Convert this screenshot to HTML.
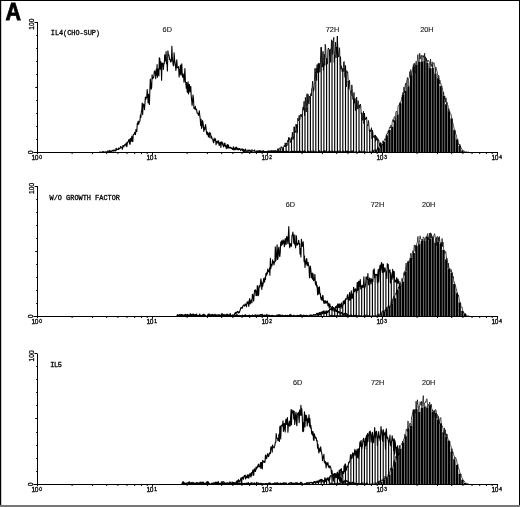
<!DOCTYPE html>
<html lang="en"><head><meta charset="utf-8"><title>Figure A</title>
<style>
html,body{margin:0;padding:0;background:#fff}
body{width:520px;height:507px;overflow:hidden;position:relative;font-family:"Liberation Sans",sans-serif}
svg{position:absolute;left:0;top:0;display:block}
.ax{stroke:#000;stroke-width:1;fill:none;shape-rendering:crispEdges}
.tk{stroke:#000;stroke-width:1;fill:none}
.ol{stroke:#000;stroke-width:1.1;fill:none;stroke-linejoin:round}
.ol3{stroke:#000;stroke-width:.85;fill:none;stroke-linejoin:round}
.ol2{stroke:#000;stroke-width:.7;fill:none;stroke-linejoin:round}
.h72{stroke:#000;stroke-width:1.15;fill:none}
.h20{stroke:#000;stroke-width:2.15;fill:none}
.t{font-family:"Liberation Mono",monospace;font-size:6.9px;fill:#000;stroke:#000;stroke-width:.3}
.n{font-family:"Liberation Sans",sans-serif;font-size:7px;fill:#000;stroke:#000;stroke-width:.3}
.s{font-family:"Liberation Sans",sans-serif;font-size:4.8px;fill:#000;stroke:#000;stroke-width:.3}
.l{font-family:"Liberation Sans",sans-serif;font-size:7.3px;fill:#111;stroke:#111;stroke-width:.1}
.A{font-family:"Liberation Sans",sans-serif;font-weight:bold;font-size:24.4px;fill:#000;stroke:#000;stroke-width:.8;stroke-linejoin:miter}
</style></head><body>
<svg width="520" height="507" viewBox="0 0 520 507">
<defs><filter id="soft" x="0" y="0" width="520" height="507" filterUnits="userSpaceOnUse"><feGaussianBlur stdDeviation="0.33"/></filter></defs>
<rect x="0" y="0" width="520" height="507" fill="#fff"/>
<g filter="url(#soft)">
<g>
<path class="ol" d="M99.5 152.3L100 151.9L100.4 152.3L100.9 152.2L101.3 152.3L101.8 152.3L102.2 152.3L102.7 151.6L103.1 152.1L103.5 151.6L104 152L104.4 152.3L104.9 152.1L105.3 152.2L105.8 151.8L106.2 152L106.7 151.9L107.1 152.3L107.6 152.1L108 150.6L108.5 152L108.9 152.2L109.4 151.2L109.8 150.3L110.3 152.2L110.7 151.3L111.2 151.5L111.6 152.3L112.1 150.2L112.5 150.7L113 150.5L113.4 151.1L113.9 149.9L114.3 150.7L114.8 150.2L115.2 151L115.7 151L116.1 148.2L116.6 150L117 149L117.5 149.2L117.9 149.5L118.4 149.5L118.8 147.9L119.3 148.9L119.7 148.6L120.2 148.2L120.6 146.5L121.1 147L121.5 147.2L122 148.3L122.4 149.3L122.9 145.6L123.3 145.5L123.8 146.9L124.2 145.6L124.7 144.9L125.1 144.5L125.6 144L126 146L126.5 142.7L126.9 146.6L127.4 142.4L127.8 142.5L128.3 141.3L128.7 140L129.2 139.3L129.6 143.7L130.1 144.3L130.5 138.2L131 141.7L131.4 138.7L131.9 136L132.3 141.2L132.8 141.7L133.2 134.9L133.7 134.5L134.1 134.3L134.6 132.4L135 133.8L135.5 134.6L135.9 129.5L136.4 130.4L136.8 131.6L137.3 123.4L137.7 124L138.2 121L138.6 124.5L139.1 122.1L139.5 122L140 120.4L140.4 115L140.9 117.4L141.3 111.7L141.8 110.3L142.2 103L142.7 114.6L143.1 103.8L143.6 106.4L144 104.7L144.5 109.6L144.9 103.9L145.4 97.1L145.8 99.4L146.3 97.3L146.7 97.7L147.2 89.6L147.6 93.8L148.1 102.9L148.5 94.4L149 99.4L149.4 104.5L149.9 89.7L150.3 79L150.8 84.2L151.2 89.2L151.7 86.8L152.1 74.7L152.6 78.7L153 78.1L153.5 77.6L153.9 76.1L154.4 71L154.8 71.4L155.3 72.4L155.7 78.6L156.2 69.2L156.6 75.2L157.1 64.5L157.5 77.2L158 70.2L158.4 68.8L158.9 75.7L159.3 57.7L159.8 58.7L160.2 69.2L160.7 61.5L161.1 63.3L161.6 80.2L162 63.1L162.5 64.4L162.9 63.1L163.4 69.4L163.8 64.2L164.3 63.2L164.7 54.7L165.2 59.3L165.6 61L166.1 51.6L166.5 63.7L167 62.6L167.4 71L167.9 50.7L168.3 54.4L168.7 54.7L169.2 56.2L169.6 59.7L170.1 59.1L170.5 62L171 61.9L171.4 60.5L171.9 46.3L172.3 57.9L172.8 61.8L173.2 65.1L173.7 65.8L174.1 52.9L174.6 59.7L175 62.7L175.5 65.5L175.9 70.4L176.4 64.8L176.8 59.9L177.3 67.7L177.7 67.3L178.2 67.9L178.6 66.6L179.1 77L179.5 69.9L180 74.1L180.4 65L180.9 75L181.3 68.3L181.8 63.8L182.2 74.8L182.7 77.3L183.1 73.9L183.6 75.9L184 82.3L184.5 75.6L184.9 68.5L185.4 81.7L185.8 82.7L186.3 88.3L186.7 82.6L187.2 91.8L187.6 92.4L188.1 81.7L188.5 93.9L189 85.4L189.4 84.6L189.9 91.9L190.3 91.8L190.8 86.4L191.2 96L191.7 100.7L192.1 105.4L192.6 100.3L193 95.1L193.5 98.7L193.9 108.1L194.4 108.9L194.8 108.5L195.3 106.4L195.7 109.6L196.2 109L196.6 109.7L197.1 113.2L197.5 113.2L198 113.2L198.4 115.4L198.9 114.2L199.3 110.7L199.8 115.8L200.2 118.7L200.7 125.8L201.1 119.4L201.6 128.4L202 127.4L202.5 120.6L202.9 122L203.4 125.6L203.8 131.4L204.3 127.9L204.7 129.6L205.2 126.3L205.6 124.5L206.1 129.1L206.5 132.7L207 134.6L207.4 132.1L207.9 133.1L208.3 136.4L208.8 133.6L209.2 137.6L209.7 132.3L210.1 133.1L210.6 133.6L211 138.1L211.5 136.2L211.9 138.2L212.4 139.2L212.8 139.5L213.3 142.1L213.7 142.8L214.2 138.1L214.6 140.6L215.1 140.1L215.5 138.8L216 144.8L216.4 143.1L216.9 141.4L217.3 141.3L217.8 143.1L218.2 140.6L218.7 142.4L219.1 145.4L219.6 145L220 142L220.5 142.8L220.9 147.4L221.4 141.9L221.8 143.2L222.3 142.3L222.7 145.3L223.2 145.3L223.6 146.9L224.1 143.1L224.5 145.6L225 143.4L225.4 146.7L225.9 145.5L226.3 148.6L226.8 146.7L227.2 144.6L227.7 148.3L228.1 144.8L228.6 145.7L229 148.3L229.5 147.6L229.9 147.6L230.4 147.2L230.8 148L231.3 148.5L231.7 147.9L232.2 149L232.6 149.5L233.1 147.9L233.5 146.7L234 150.1L234.4 148.1L234.8 149.1L235.3 149.6L235.7 147.4L236.2 149.2L236.6 147.1L237.1 149.7L237.5 148.4L238 149.2L238.4 149.9L238.9 148.4L239.3 149.4L239.8 148.6L240.2 149.4L240.7 150.6L241.1 149.6L241.6 149.5L242 148.6L242.5 150.6L242.9 149.8L243.4 151.6L243.8 149.2L244.3 151L244.7 151.8L245.2 150.1L245.6 149L246.1 151.6L246.5 151.3L247 151L247.4 151.4L247.9 150L248.3 151.2L248.8 151.1L249.2 150L249.7 151.2L250.1 150.2L250.6 151.5L251 151.7L251.5 152.3L251.9 149.6L252.4 151.1L252.8 150.7L253.3 150.9L253.7 150.8L254.2 151L254.6 149.9L255.1 151.9L255.5 152.3L256 151.9L256.4 152.2L256.9 150.7L257.3 150.7L257.8 152L258.2 152.3L258.7 151.6L259.1 150.5L259.6 152.3L260 151.1L260.5 152.2L260.9 150.9L261.4 152.2L261.8 151.8L262.3 152.3L262.7 152.2L263.2 150.8L263.6 151.2L264.1 152L264.5 152.2L265 152.3L265.4 152L265.9 151.8L266.3 151.9L266.8 151.9L267.2 152.3L267.7 151.9L268.1 152L268.6 151.3L269 151.1L269.5 152.1L269.9 152.3L270.4 152.1L270.8 152.3L271.3 152.3L271.7 152.1L272.2 152.3L272.6 151.9L273.1 152.2L273.5 152.1L274 152.3L274.4 152.3L274.9 152.3L275.3 152.1L275.8 152.2L276.2 151.5L276.7 151.5L277.1 152.2L277.6 151.8L278 152.1L278.5 151.6L278.9 151.6L279.4 152.2L279.8 151.4L280.3 151.5L280.7 151.9L281.2 152.1L281.6 151.8L282.1 151.8L282.5 151.6L283 152.1L283.4 152L283.9 152.2L284.3 151.6L284.8 151.9L285.2 152L285.7 152L286.1 151.4L286.6 152.3L287 151.8L287.5 151.7L287.9 151.8L288.4 151.9L288.8 152.3L289.3 152.2L289.7 152L290.2 151.9L290.6 151.9L291.1 152.3L291.5 151.5L292 151.1L292.4 151.4L292.9 151.8L293.3 152.2L293.8 151.6L294.2 152.1L294.7 152.3L295.1 151.7L295.6 152.3L296 152.3L296.5 152L296.9 151.5L297.4 152.2L297.8 151.9L298.3 151.4L298.7 151.5L299.2 151.9L299.6 151.9L300 152.3"/>
<path class="h72" d="M275.3 152.3V150.4M278 152.3V148.7M280.7 152.3V148.3M283.4 152.3V148M286.1 152.3V145M288.8 152.3V137.4M291.5 152.3V137.2M294.2 152.3V126.8M296.9 152.3V124.7M299.6 152.3V120.4M302.3 152.3V115.8M305 152.3V108M307.7 152.3V106.4M310.4 152.3V99M313.1 152.3V87.2M315.8 152.3V79.8M318.5 152.3V63.5M321.2 152.3V47.2M323.9 152.3V63.5M326.6 152.3V58.4M329.3 152.3V50M332 152.3V40.9M334.7 152.3V54.4M337.4 152.3V36.2M340.1 152.3V65.3M342.8 152.3V68.4M345.5 152.3V65.6M348.2 152.3V81.1M350.9 152.3V96M353.6 152.3V97.7M356.3 152.3V98.6M359 152.3V109.6M361.7 152.3V112.8M364.4 152.3V113M367 152.3V124.5M369.7 152.3V129.7M372.4 152.3V130.1M375.1 152.3V134.9M377.8 152.3V138.7M380.5 152.3V142.9M383.2 152.3V147.1M385.9 152.3V147.1M388.6 152.3V149.2M391.3 152.3V150.1M394 152.3V151.6"/>
<path class="ol3" d="M262.3 152.3L262.7 151.8L263.2 151.7L263.6 152.3L264.1 152.1L264.5 152L265 151.7L265.4 152.1L265.9 151.2L266.3 152.2L266.8 152.3L267.2 152.3L267.7 152.3L268.1 152.3L268.6 151.2L269 151.7L269.5 152.3L269.9 151.5L270.4 152.3L270.8 151.9L271.3 151.2L271.7 151L272.2 152.1L272.6 150.6L273.1 150.1L273.5 151.7L274 150.5L274.4 152.3L274.9 152.3L275.3 150.4L275.8 150.8L276.2 150.5L276.7 151.2L277.1 150.8L277.6 149.3L278 148.7L278.5 150.1L278.9 151.8L279.4 147.9L279.8 148.3L280.3 147.9L280.7 148.3L281.2 146.6L281.6 147.9L282.1 146.9L282.5 150.6L283 148.1L283.4 148L283.9 146.4L284.3 145.2L284.8 147L285.2 142.8L285.7 146.8L286.1 145L286.6 142.9L287 145.8L287.5 140.9L287.9 140.1L288.4 141.8L288.8 137.4L289.3 139.5L289.7 138.3L290.2 141.1L290.6 142.5L291.1 138.8L291.5 137.2L292 136.8L292.4 132.2L292.9 139.7L293.3 136.7L293.8 138.3L294.2 126.8L294.7 132.3L295.1 131.2L295.6 132.5L296 124.1L296.5 128.1L296.9 124.7L297.4 132.7L297.8 118.2L298.3 121L298.7 119.3L299.2 115.3L299.6 120.4L300 119.3L300.5 114.4L300.9 114.6L301.4 116.7L301.8 114.3L302.3 115.8L302.7 108.9L303.2 106.8L303.6 110.2L304.1 101.3L304.5 115.7L305 108L305.4 97.4L305.9 106.8L306.3 111.9L306.8 94.8L307.2 93.7L307.7 106.4L308.1 94.4L308.6 103.2L309 103.9L309.5 96L309.9 96.7L310.4 99L310.8 93.5L311.3 96L311.7 88.3L312.2 87.4L312.6 81.2L313.1 87.2L313.5 91.3L314 89.8L314.4 81.5L314.9 68.5L315.3 71.5L315.8 79.8L316.2 67.9L316.7 80.6L317.1 64.6L317.6 72.9L318 63.7L318.5 63.5L318.9 68.7L319.4 63.4L319.8 72.3L320.3 64.4L320.7 55.3L321.2 47.2L321.6 52.4L322.1 59.9L322.5 67.1L323 51.3L323.4 70.4L323.9 63.5L324.3 54.3L324.8 65.3L325.2 44.3L325.7 47.1L326.1 58.9L326.6 58.4L327 63.7L327.5 63.9L327.9 49.7L328.4 48L328.8 49.7L329.3 50L329.7 56L330.2 48.8L330.6 62.4L331.1 51.1L331.5 39.8L332 40.9L332.4 54.4L332.9 53.5L333.3 40.5L333.8 37.4L334.2 62.4L334.7 54.4L335.1 49.4L335.6 42.1L336 57.9L336.5 46.9L336.9 54.4L337.4 36.2L337.8 49.9L338.3 54.8L338.7 57.1L339.2 47.6L339.6 48.4L340.1 65.3L340.5 56.7L341 69.1L341.4 65.8L341.9 70.7L342.3 71.9L342.8 68.4L343.2 71.6L343.7 62.1L344.1 61.5L344.6 70L345 77.4L345.5 65.6L345.9 86.2L346.4 86.9L346.8 70.6L347.3 72.6L347.7 72L348.2 81.1L348.6 88.9L349.1 85.7L349.5 80.3L350 89.8L350.4 90.6L350.9 96L351.3 95.8L351.8 84.9L352.2 88.4L352.7 99L353.1 99.6L353.6 97.7L354 92.5L354.5 103.3L354.9 98.7L355.4 110.7L355.8 106.8L356.3 98.6L356.7 97.1L357.2 109.1L357.6 108L358.1 100.7L358.5 107.9L359 109.6L359.4 105.1L359.9 107.7L360.3 104L360.8 106.5L361.2 114.1L361.7 112.8L362.1 113.3L362.6 120.3L363 119.3L363.5 111.2L363.9 123.7L364.4 113L364.8 117.1L365.3 119.8L365.7 117.8L366.1 119L366.6 116.9L367 124.5L367.5 124.8L367.9 125.8L368.4 120.5L368.8 123L369.3 131L369.7 129.7L370.2 131.9L370.6 130.2L371.1 130.3L371.5 127.7L372 138.9L372.4 130.1L372.9 132.9L373.3 137.2L373.8 136.2L374.2 138L374.7 137L375.1 134.9L375.6 141.4L376 136.1L376.5 140.2L376.9 137.4L377.4 139.9L377.8 138.7L378.3 140.6L378.7 140L379.2 142.9L379.6 145.4L380.1 142.5L380.5 142.9L381 142.7L381.4 149.4L381.9 146.1L382.3 144L382.8 148.7L383.2 147.1L383.7 145.1L384.1 145.4L384.6 149L385 146.1L385.5 146.3L385.9 147.1L386.4 147.9L386.8 148.4L387.3 150.2L387.7 149.9L388.2 148.3L388.6 149.2L389.1 148.2L389.5 150.3L390 152.3L390.4 150.6L390.9 150L391.3 150.1L391.8 150.5L392.2 151.6L392.7 149.7L393.1 151.7L393.6 150.6L394 151.6L394.5 152.3L394.9 150.5L395.4 152.3L395.8 152.3L396.3 151.6L396.7 152.2L397.2 151.7L397.6 152.2L398.1 152.3L398.5 151.3L399 152.3"/>
<path d="M371.1 152.3L371.1 152.4L371.5 152.2L372 152.1L372.4 152L372.9 151.9L373.3 151.6L373.8 151.4L374.2 151.2L374.7 151.2L375.1 151.1L375.6 151.1L376 151L376.5 150.9L376.9 150.8L377.4 150.5L377.8 150.1L378.3 149.6L378.7 149L379.2 148.5L379.6 148L380.1 147.7L380.5 147.4L381 147.1L381.4 146.9L381.9 146.5L382.3 146L382.8 145.2L383.2 144.2L383.7 143.3L384.1 142.6L384.6 142L385 141.6L385.5 141.3L385.9 140.9L386.4 140.3L386.8 139.1L387.3 137.6L387.7 136.1L388.2 134.9L388.6 134L389.1 133.2L389.5 132.1L390 130.9L390.4 129.8L390.9 129L391.3 128.3L391.8 127.7L392.2 126.9L392.7 125.8L393.1 124.5L393.6 123.5L394 122.8L394.5 122.2L394.9 121.6L395.4 120.9L395.8 120.1L396.3 118.7L396.7 117.1L397.2 115.8L397.6 114.7L398.1 113.4L398.5 111.4L399 109.1L399.4 107.2L399.9 106L400.3 105.1L400.8 104.3L401.2 103.3L401.7 102.2L402.1 100.8L402.6 99.3L403 97.8L403.5 96.6L403.9 95.6L404.4 94.8L404.8 94L405.3 93.2L405.7 92.4L406.2 91.7L406.6 90.9L407.1 89.8L407.5 88.5L408 87.3L408.4 86L408.9 84.4L409.3 82.2L409.8 80.1L410.2 78.4L410.7 77.3L411.1 76.6L411.6 76.1L412 75.5L412.5 74.6L412.9 73.5L413.4 72.6L413.8 72.4L414.3 72.8L414.7 73.3L415.2 73.4L415.6 72.5L416.1 70.7L416.5 68.3L417 66.4L417.4 65.1L417.9 64.3L418.3 63.6L418.8 63.1L419.2 62.7L419.7 62.4L420.1 62L420.6 61.7L421 61.7L421.5 61.9L421.9 62L422.4 61.9L422.8 61.7L423.3 61.5L423.7 61.3L424.2 61.3L424.6 61.5L425.1 61.9L425.5 62.4L426 63L426.4 63.4L426.9 63.6L427.3 63.5L427.8 63.5L428.2 64L428.7 65.1L429.1 66.7L429.6 68L430 68.6L430.5 68.7L430.9 68.5L431.3 68.4L431.8 68.4L432.2 68.5L432.7 68.7L433.1 68.8L433.6 69.3L434 70.4L434.5 71.9L434.9 73.1L435.4 73.8L435.8 74.4L436.3 75.1L436.7 76.3L437.2 77.7L437.6 79.2L438.1 80.8L438.5 82.4L439 83.7L439.4 84.6L439.9 85.4L440.3 86.3L440.8 87.4L441.2 89.1L441.7 91.4L442.1 93.8L442.6 95.9L443 97.5L443.5 99L443.9 100.4L444.4 101.7L444.8 102.7L445.3 103.5L445.7 104.2L446.2 105.1L446.6 106.3L447.1 107.9L447.5 109.7L448 111.2L448.4 112.2L448.9 113L449.3 114L449.8 115.1L450.2 116.4L450.7 118.1L451.1 120L451.6 122L452 124L452.5 126L452.9 127.9L453.4 129.5L453.8 131L454.3 132.4L454.7 133.9L455.2 135.5L455.6 137.2L456.1 138.7L456.5 140.1L457 141.4L457.4 142.9L457.9 144.3L458.3 145.4L458.8 146.1L459.2 146.8L459.7 147.5L460.1 148.3L460.6 149.1L461 149.8L461.5 150.4L461.9 150.9L462.4 151.4L462.8 151.7L463.3 152L463.7 152.2L464.2 152.4L464.6 152.6L464.6 152.3Z" fill="#c0c0c0" stroke="none"/>
<path class="h20" d="M373.3 152.3V150.4M376 152.3V150.3M378.7 152.3V147.7M381.4 152.3V145.7M384.1 152.3V141.8M386.8 152.3V135.6M389.5 152.3V129.9M392.2 152.3V126.7M394.9 152.3V120.3M397.6 152.3V114.4M400.3 152.3V103.3M403 152.3V94.8M405.7 152.3V91M408.4 152.3V86.2M411.1 152.3V75.2M413.8 152.3V67.1M416.5 152.3V64.5M419.2 152.3V62.1M421.9 152.3V61.5M424.6 152.3V60.6M427.3 152.3V63.1M430 152.3V68.3M432.7 152.3V68.1M435.4 152.3V73.4M438.1 152.3V78.3M440.8 152.3V86.3M443.5 152.3V95.9M446.2 152.3V104.2M448.9 152.3V111.3M451.6 152.3V118.6M454.3 152.3V130.2M457 152.3V139.5M459.7 152.3V145.7M462.4 152.3V150.6"/>
<path class="ol2" d="M257.8 152.3L258.2 150.9L258.7 151.2L259.1 151.2L259.6 150.6L260 150.6L260.5 151.3L260.9 151.4L261.4 151.3L261.8 150.9L262.3 150.9L262.7 151L263.2 150.6L263.6 151L264.1 151.1L264.5 151.3L265 151.8L265.4 151.4L265.9 151.4L266.3 151.5L266.8 151.5L267.2 151.7L267.7 150.9L268.1 151.1L268.6 150.9L269 151.1L269.5 151L269.9 150.9L270.4 150.9L270.8 150.5L271.3 150.3L271.7 150.8L272.2 151.3L272.6 152L273.1 152.2L273.5 151.8L274 151.5L274.4 150.8L274.9 151.3L275.3 151.6L275.8 152L276.2 151.9L276.7 151.8L277.1 151.9L277.6 151.2L278 151L278.5 151.1L278.9 151.1L279.4 151.5L279.8 151.5L280.3 151L280.7 151.5L281.2 152L281.6 151.8L282.1 151.1L282.5 150.6L283 151.5L283.4 151.9L283.9 151.2L284.3 151.2L284.8 151.6L285.2 151.9L285.7 152L286.1 151.2L286.6 150.7L287 151.1L287.5 151.3L287.9 151.3L288.4 151.9L288.8 151.6L289.3 152.1L289.7 152.3L290.2 151.8L290.6 151.8L291.1 151.2L291.5 151L292 151.4L292.4 151.1L292.9 151.8L293.3 151.5L293.8 151.6L294.2 151.3L294.7 151.6L295.1 151L295.6 151.1L296 151.7L296.5 151.3L296.9 151.1L297.4 151.5L297.8 152L298.3 152L298.7 151.4L299.2 151.5L299.6 152.1L300 151.3L300.5 150.9L300.9 151.3L301.4 151.5L301.8 151.5L302.3 151.4L302.7 150.8L303.2 150.8L303.6 151.3L304.1 150.7L304.5 150.5L305 151.4L305.4 151L305.9 151.7L306.3 151.8L306.8 152.1L307.2 151.9L307.7 151.1L308.1 150.9L308.6 150.9L309 151.4L309.5 151.5L309.9 151.9L310.4 151.4L310.8 151.1L311.3 150.9L311.7 151L312.2 151.5L312.6 151.7L313.1 151.2L313.5 150.5L314 150.6L314.4 151.5L314.9 151.8L315.3 151.9L315.8 151.8L316.2 151.9L316.7 151.3L317.1 151.5L317.6 151.9L318 151.6L318.5 151.3L318.9 150.7L319.4 150.5L319.8 151.4L320.3 152L320.7 151.6L321.2 150.8L321.6 150.8L322.1 151.8L322.5 151.8L323 151.9L323.4 151L323.9 150.8L324.3 150.3L324.8 150.8L325.2 151.1L325.7 150.6L326.1 150.9L326.6 151.2L327 151.8L327.5 152L327.9 151.5L328.4 151.4L328.8 151.1L329.3 150.9L329.7 151L330.2 150.7L330.6 151.5L331.1 151.7L331.5 151.7L332 151.8L332.4 150.7L332.9 150.6L333.3 151L333.8 151.7L334.2 151.7L334.7 151.5L335.1 151L335.6 151.3L336 151.9L336.5 151.8L336.9 151L337.4 150.6L337.8 151.3L338.3 150.8L338.7 151.3L339.2 151.7L339.6 151.7L340.1 150.5L340.5 150.8L341 151.1L341.4 151.7L341.9 151.7L342.3 151.9L342.8 151.2L343.2 151.2L343.7 150.8L344.1 151.1L344.6 151.6L345 151.3L345.5 150.9L345.9 150.6L346.4 150.7L346.8 151.4L347.3 151L347.7 151.2L348.2 151.4L348.6 151.4L349.1 151.4L349.5 151.3L350 152L350.4 152L350.9 151.5L351.3 151L351.8 150.8L352.2 150.8L352.7 150.9L353.1 151.4L353.6 151.8L354 151.9L354.5 151.9L354.9 152L355.4 151.9L355.8 151.3L356.3 151.4L356.7 151.5L357.2 152.1L357.6 151.9L358.1 152.1L358.5 152.1L359 151L359.4 150.5L359.9 151.2L360.3 151.1L360.8 151.8L361.2 152.1L361.7 152.2L362.1 151.9L362.6 151.4L363 151.5L363.5 151.2L363.9 151L364.4 151.3L364.8 151L365.3 151.4L365.7 152.3L366.1 152.3L366.6 152.3L367 152.1L367.5 152.1L367.9 152.3L368.4 152.3L368.8 152L369.3 151.9L369.7 152.3L370.2 151.3L370.6 151.5L371.1 151.4L371.5 151.2L372 151.5L372.4 151L372.9 150.4L373.3 150.2L373.8 150.3L374.2 150.5L374.7 150.5L375.1 149.2L375.6 149.4L376 149.6L376.5 150.3L376.9 149.2L377.4 149.6L377.8 147.1L378.3 147.4L378.7 147.7L379.2 146.9L379.6 144.4L380.1 144.9L380.5 146.6L381 145.1L381.4 145.7L381.9 145.7L382.3 143.4L382.8 140.7L383.2 140.9L383.7 141.8L384.1 140.5L384.6 140.2L385 138.5L385.5 140.5L385.9 140.2L386.4 134.6L386.8 135.6L387.3 132.8L387.7 133.6L388.2 130.8L388.6 132.6L389.1 129.9L389.5 127.3L390 127L390.4 128.2L390.9 125L391.3 126.5L391.8 126.7L392.2 122.4L392.7 119.7L393.1 119.6L393.6 122.3L394 117.3L394.5 116.5L394.9 117.5L395.4 120.3L395.8 112.4L396.3 111.4L396.7 111L397.2 114.4L397.6 112.7L398.1 106.3L398.5 105.4L399 104.8L399.4 105.2L399.9 102.5L400.3 103.3L400.8 101.4L401.2 101.4L401.7 97.5L402.1 97.7L402.6 93.1L403 92.4L403.5 94.8L403.9 87L404.4 93.1L404.8 87.9L405.3 85L405.7 83.2L406.2 91L406.6 81.3L407.1 79.4L407.5 77.5L408 86.2L408.4 80.7L408.9 77.9L409.3 77.7L409.8 71.5L410.2 76.1L410.7 69.5L411.1 70.4L411.6 75.2L412 72.9L412.5 70.5L412.9 68L413.4 64.5L413.8 67.1L414.3 63L414.7 69.6L415.2 73.3L415.6 64.4L416.1 61.3L416.5 63.1L417 64.5L417.4 59.6L417.9 54.5L418.3 60.4L418.8 62L419.2 62.1L419.7 53.2L420.1 59.2L420.6 57.1L421 55.1L421.5 55.4L421.9 61.5L422.4 55.6L422.8 56L423.3 57.1L423.7 55.5L424.2 60.4L424.6 53.2L425.1 60.6L425.5 56.8L426 61.3L426.4 58.3L426.9 63.1L427.3 60.3L427.8 61.3L428.2 60.8L428.7 60.4L429.1 61.7L429.6 62.2L430 68.3L430.5 59.1L430.9 64.9L431.3 64.3L431.8 66.6L432.2 61.8L432.7 68.1L433.1 64.6L433.6 63.3L434 62.6L434.5 64.7L434.9 67.2L435.4 73.4L435.8 67.1L436.3 68.5L436.7 70.6L437.2 71.9L437.6 75.3L438.1 78.3L438.5 75.2L439 76.2L439.4 83.9L439.9 80.1L440.3 83.4L440.8 83.2L441.2 86.3L441.7 85.6L442.1 87.2L442.6 89L443 95.9L443.5 91.8L443.9 95.1L444.4 99.2L444.8 96.1L445.3 102.3L445.7 98.3L446.2 97.9L446.6 104.2L447.1 102.3L447.5 104.7L448 105.7L448.4 111.3L448.9 108.6L449.3 111.1L449.8 111.4L450.2 114.4L450.7 113.9L451.1 114.4L451.6 118L452 118.6L452.5 122.4L452.9 122.8L453.4 125.8L453.8 127L454.3 130.2L454.7 129.8L455.2 130.7L455.6 134.1L456.1 134.4L456.5 136.3L457 139.5L457.4 139.1L457.9 139.4L458.3 142.5L458.8 144.9L459.2 144L459.7 145.7L460.1 144.6L460.6 146.9L461 147.7L461.5 148.8L461.9 148.9L462.4 150L462.8 150.6L463.3 150.7L463.7 151.3L464.2 150.8L464.6 151.8L465.1 151.7L465.5 152L466 152.3L466.4 151.6L466.9 152.3L467.3 151.8L467.8 152.3L468.2 152.2L468.7 151.9L469.1 152.3"/>
<path d="M275 152.3L275.3 152L275.8 152L276.2 151.6L276.7 151.5L277.1 151.7L277.6 151.8L278 151.6L278.5 151.4L278.9 151.5L279.4 151.5L279.8 151.4L280.3 151.6L280.7 151.9L281.2 152L281.6 151.7L282.1 151.4L282.5 151.5L283 152L283.4 152.1L283.9 151.8L284.3 151.7L284.8 151.9L285.2 151.9L285.7 151.8L286.1 151.6L286.6 151.9L287 152L287.5 151.8L287.9 151.9L288.4 152.1L288.8 152.1L289.3 152.1L289.7 152.2L290.2 152.1L290.6 151.9L291.1 151.9L291.5 151.7L292 151.5L292.4 151.8L292.9 151.9L293.3 151.7L293.8 151.9L294.2 152L294.7 151.9L295.1 151.8L295.6 151.9L296 151.9L296.5 151.8L296.9 151.9L297.4 152L297.8 152L298.3 152L298.7 152L299.2 151.9L299.6 151.9L300 152.3Z" fill="#000" stroke="none"/>
<path d="M258 152.3L258.2 150.9L258.7 151.2L259.1 151.1L259.6 150.5L260 150.7L260.5 151.5L260.9 151.5L261.4 151.2L261.8 151.1L262.3 150.9L262.7 151.1L263.2 150.8L263.6 150.9L264.1 151.1L264.5 151.2L265 151.6L265.4 151.7L265.9 151.6L266.3 151.3L266.8 151.6L267.2 151.6L267.7 151.1L268.1 151.1L268.6 150.8L269 151.1L269.5 151.1L269.9 150.9L270.4 150.9L270.8 150.5L271.3 150.4L271.7 150.6L272.2 151.3L272.6 151.9L273.1 152.1L273.5 151.9L274 151.3L274.4 150.7L274.9 151.1L275.3 151.7L275.8 151.9L276.2 151.9L276.7 151.9L277.1 151.7L277.6 151.2L278 150.9L278.5 151L278.9 151.1L279.4 151.7L279.8 151.7L280.3 151.3L280.7 151.6L281.2 151.9L281.6 151.7L282.1 151.2L282.5 150.9L283 151.6L283.4 151.8L283.9 151.2L284.3 151.2L284.8 151.6L285.2 151.7L285.7 151.6L286.1 151.1L286.6 150.9L287 151.1L287.5 151L287.9 151.3L288.4 151.6L288.8 151.9L289.3 152.1L289.7 152.1L290.2 151.9L290.6 151.6L291.1 151.3L291.5 151L292 151.2L292.4 151.3L292.9 151.6L293.3 151.7L293.8 151.6L294.2 151.1L294.7 151.3L295.1 151.3L295.6 151.3L296 151.5L296.5 151.5L296.9 151.1L297.4 151.5L297.8 152L298.3 152L298.7 151.6L299.2 151.5L299.6 151.8L300 151.6L300.5 151L300.9 151.1L301.4 151.5L301.8 151.3L302.3 151.4L302.7 150.9L303.2 150.9L303.6 151.2L304.1 150.6L304.5 150.7L305 151.4L305.4 151.4L305.9 151.6L306.3 152L306.8 152.1L307.2 151.8L307.7 151.3L308.1 150.9L308.6 150.8L309 151.4L309.5 151.6L309.9 151.7L310.4 151.6L310.8 151.2L311.3 150.9L311.7 151.2L312.2 151.8L312.6 151.8L313.1 151.2L313.5 150.8L314 150.8L314.4 151.4L314.9 151.7L315.3 151.9L315.8 151.7L316.2 151.7L316.7 151.5L317.1 151.5L317.6 151.9L318 151.8L318.5 151.2L318.9 150.7L319.4 150.6L319.8 151.3L320.3 152L320.7 151.7L321.2 150.8L321.6 151L322.1 151.7L322.5 151.8L323 151.6L323.4 151L323.9 150.7L324.3 150.5L324.8 151L325.2 151.2L325.7 150.9L326.1 151.2L326.6 151.3L327 151.7L327.5 151.8L327.9 151.5L328.4 151.4L328.8 151L329.3 150.9L329.7 150.7L330.2 151L330.6 151.3L331.1 151.5L331.5 151.8L332 151.5L332.4 150.8L332.9 150.8L333.3 151L333.8 151.5L334.2 151.6L334.7 151.2L335.1 151.2L335.6 151.3L336 151.7L336.5 151.7L336.9 151.1L337.4 150.8L337.8 151.1L338.3 150.7L338.7 151L339.2 151.8L339.6 151.7L340.1 150.9L340.5 150.8L341 151.1L341.4 151.6L341.9 151.9L342.3 151.6L342.8 151.4L343.2 151.3L343.7 150.7L344.1 151L344.6 151.7L345 151.6L345.5 150.8L345.9 150.7L346.4 151L346.8 151.3L347.3 150.9L347.7 151L348.2 151.3L348.6 151.3L349.1 151.4L349.5 151.2L350 151.7L350.4 151.7L350.9 151.3L351.3 151.1L351.8 150.7L352.2 150.6L352.7 151L353.1 151.5L353.6 151.7L354 151.8L354.5 152L354.9 152.1L355.4 151.8L355.8 151.3L356.3 151.4L356.7 151.7L357.2 151.9L357.6 152.1L358.1 152.2L358.5 151.9L359 151.2L359.4 150.6L359.9 151L360.3 151.5L360.8 151.6L361.2 152L361.7 152.2L362.1 152L362.6 151.5L363 151.4L363.5 151.5L363.9 151.1L364.4 151.5L364.8 151.5L365.3 151.5L365.7 151.9L366 152.3Z" fill="#000" stroke="none"/>
<path class="ax" d="M37.5 22.2 V152.5 H497.5"/>
<path class="tk" d="M37.5 152.5h-4.2M37.5 139.5h-1.3M37.5 126.5h-1.3M37.5 113.5h-1.3M37.5 100.5h-1.3M37.5 87.5h-2.2M37.5 74.5h-1.3M37.5 61.5h-1.3M37.5 48.5h-1.3M37.5 35.5h-1.3M37.5 22.5h-3M37.5 152.3v2M72.1 152.3v1.8M92.4 152.3v1.8M106.7 152.3v1.8M117.9 152.3v1.8M127 152.3v1.8M134.7 152.3v1.8M141.4 152.3v1.8M147.2 152.3v1.8M152.5 152.3v2.6M187.1 152.3v1.8M207.4 152.3v1.8M221.7 152.3v1.8M232.9 152.3v1.8M242 152.3v1.8M249.7 152.3v1.8M256.4 152.3v1.8M262.2 152.3v1.8M267.5 152.3v2.6M302.1 152.3v1.8M322.4 152.3v1.8M336.7 152.3v1.8M347.9 152.3v1.8M357 152.3v1.8M364.7 152.3v1.8M371.4 152.3v1.8M377.2 152.3v1.8M382.5 152.3v2.6M417.1 152.3v1.8M437.4 152.3v1.8M451.7 152.3v1.8M462.9 152.3v1.8M472 152.3v1.8M479.7 152.3v1.8M486.4 152.3v1.8M492.2 152.3v1.8M497.5 152.3v2.6"/>
<text class="n" transform="translate(33.5 29.8) rotate(-90)" textLength="11.2" lengthAdjust="spacingAndGlyphs">100</text>
<text class="n" transform="translate(33.2 154.3) rotate(-90)">0</text>
<text class="n" x="31.5" y="160.3" textLength="6.8" lengthAdjust="spacing" style="font-size:6.6px">10</text><text class="s" x="39.2" y="158.6">0</text>
<text class="n" x="146.5" y="160.3" textLength="6.8" lengthAdjust="spacing" style="font-size:6.6px">10</text><text class="s" x="154.2" y="158.6">1</text>
<text class="n" x="261.5" y="160.3" textLength="6.8" lengthAdjust="spacing" style="font-size:6.6px">10</text><text class="s" x="269.2" y="158.6">2</text>
<text class="n" x="376.5" y="160.3" textLength="6.8" lengthAdjust="spacing" style="font-size:6.6px">10</text><text class="s" x="384.2" y="158.6">3</text>
<text class="n" x="491.5" y="160.3" textLength="6.8" lengthAdjust="spacing" style="font-size:6.6px">10</text><text class="s" x="499.2" y="158.6">4</text>
<text class="t" x="50.8" y="34.9" textLength="49.2" lengthAdjust="spacing">IL4(CHO-SUP)</text>
<text class="l" x="162.6" y="32.1">6D</text>
<text class="l" x="325.8" y="31.8">72H</text>
<text class="l" x="420.2" y="31.8">20H</text>
</g>
<g>
<path class="ol" d="M225.9 316.2L226.3 315.8L226.8 316.1L227.2 316.2L227.7 316.2L228.1 316.2L228.6 316.2L229 315.7L229.5 315.9L229.9 315.7L230.4 315.3L230.8 315.6L231.3 316.2L231.7 315.9L232.2 316L232.6 316.2L233.1 314.8L233.5 315.7L234 315.6L234.4 315.2L234.8 313L235.3 313.9L235.7 312.2L236.2 313.2L236.6 313.3L237.1 311.8L237.5 311.5L238 311.8L238.4 313L238.9 311.9L239.3 312.7L239.8 311L240.2 310.1L240.7 308L241.1 307.6L241.6 308.1L242 307.2L242.5 308.1L242.9 305.9L243.4 305.4L243.8 305L244.3 306.1L244.7 305.6L245.2 303.9L245.6 305.2L246.1 304.5L246.5 306.8L247 302.2L247.4 303.5L247.9 301.5L248.3 303.3L248.8 306.5L249.2 300.7L249.7 298.5L250.1 303.9L250.6 302.7L251 300.5L251.5 299.8L251.9 303L252.4 294.2L252.8 294.5L253.3 298.4L253.7 301.1L254.2 294.3L254.6 290.4L255.1 291.5L255.5 289.8L256 295.4L256.4 291.1L256.9 295.8L257.3 285.5L257.8 287.8L258.2 295.8L258.7 294.3L259.1 285.8L259.6 286.2L260 287L260.5 283.1L260.9 278.7L261.4 282.4L261.8 289.4L262.3 282.7L262.7 286.1L263.2 283.5L263.6 278.5L264.1 279.5L264.5 282.2L265 277.3L265.4 279.6L265.9 273.5L266.3 275.7L266.8 272.3L267.2 274.1L267.7 269L268.1 271.8L268.6 270.4L269 271.9L269.5 268L269.9 275.3L270.4 258.2L270.8 268.8L271.3 264.3L271.7 265.9L272.2 264.9L272.6 259.8L273.1 263L273.5 261.5L274 265L274.4 261.8L274.9 262L275.3 246.7L275.8 261L276.2 258.8L276.7 251.7L277.1 244.7L277.6 259.5L278 258.1L278.5 248.9L278.9 247L279.4 255.3L279.8 256.6L280.3 251.6L280.7 242.1L281.2 245.6L281.6 240.8L282.1 244.7L282.5 243.8L283 239.8L283.4 243.2L283.9 240.9L284.3 246.6L284.8 244.6L285.2 238.5L285.7 242L286.1 244.4L286.6 236.5L287 236.9L287.5 239.6L287.9 243.6L288.4 234.4L288.8 226.6L289.3 243.7L289.7 247.6L290.2 243.5L290.6 244.5L291.1 246.4L291.5 246L292 235.2L292.4 235.3L292.9 232.1L293.3 236.2L293.8 243.1L294.2 234.9L294.7 244.3L295.1 243.2L295.6 248L296 235.4L296.5 237L296.9 245.3L297.4 244.9L297.8 243.5L298.3 243.1L298.7 240.2L299.2 244.8L299.6 243.6L300 254.1L300.5 248.5L300.9 256.9L301.4 239.2L301.8 242.1L302.3 246.4L302.7 245.4L303.2 241.9L303.6 248.3L304.1 261.8L304.5 256L305 267.5L305.4 261.1L305.9 264.2L306.3 259.4L306.8 258.6L307.2 265.8L307.7 263.9L308.1 262.4L308.6 265.5L309 266.7L309.5 277.6L309.9 270.1L310.4 266L310.8 269.5L311.3 277.9L311.7 274L312.2 273L312.6 279.1L313.1 273.8L313.5 280.7L314 279.9L314.4 280.2L314.9 274.4L315.3 283.1L315.8 285L316.2 281.5L316.7 286.7L317.1 285.4L317.6 294.7L318 287.2L318.5 289.2L318.9 294.3L319.4 286.9L319.8 292.8L320.3 293.6L320.7 297.8L321.2 299.5L321.6 297.2L322.1 300.6L322.5 295.8L323 295.5L323.4 300.2L323.9 303.3L324.3 300.8L324.8 303.1L325.2 300.7L325.7 301.3L326.1 303.3L326.6 302.7L327 301.1L327.5 301L327.9 305.6L328.4 303.4L328.8 305.9L329.3 308L329.7 303.7L330.2 305.9L330.6 306.8L331.1 306.8L331.5 308.2L332 310.1L332.4 306.4L332.9 307.4L333.3 308.8L333.8 308L334.2 307.9L334.7 310.5L335.1 309.6L335.6 311.2L336 310.1L336.5 311.6L336.9 309.7L337.4 312.2L337.8 311.3L338.3 311.5L338.7 312.8L339.2 311.4L339.6 312.8L340.1 313.4L340.5 313.1L341 314.1L341.4 312.2L341.9 313L342.3 312.8L342.8 315.3L343.2 313.8L343.7 314.8L344.1 314.2L344.6 313.3L345 314.3L345.5 314.8L345.9 313.8L346.4 314L346.8 313.7L347.3 316.2L347.7 314.9L348.2 315.5L348.6 315.9L349.1 315.3L349.5 316.2L350 316.2L350.4 316.2L350.9 315.8L351.3 314.7L351.8 316.2L352.2 316.2L352.7 316.2L353.1 316.1L353.6 316.1L354 316L354.5 316.2L354.9 316.2L355.4 316.2L355.8 316.1L356.3 316.2"/>
<path class="h72" d="M315.8 316.2V314.4M318.5 316.2V313.1M321.2 316.2V314.8M323.9 316.2V310.8M326.6 316.2V315.1M329.3 316.2V311.4M332 316.2V307.8M334.7 316.2V311M337.4 316.2V305M340.1 316.2V304.6M342.8 316.2V305.1M345.5 316.2V298.7M348.2 316.2V299M350.9 316.2V294.1M353.6 316.2V287.2M356.3 316.2V293.4M359 316.2V281M361.7 316.2V287.9M364.4 316.2V290M367 316.2V278.5M369.7 316.2V277.9M372.4 316.2V279.3M375.1 316.2V274.8M377.8 316.2V274.4M380.5 316.2V271.5M383.2 316.2V264.1M385.9 316.2V271.4M388.6 316.2V271.3M391.3 316.2V279.8M394 316.2V271.4M396.7 316.2V277.8M399.4 316.2V285.5M402.1 316.2V292.8M404.8 316.2V299.9M407.5 316.2V298.7M410.2 316.2V301.9M412.9 316.2V306.3M415.6 316.2V310.3M418.3 316.2V311M421 316.2V313.9M423.7 316.2V315.7"/>
<path class="ol" d="M176.8 316.2L177.3 315L177.7 314.5L178.2 315L178.6 315.5L179.1 315.7L179.5 314.9L180 314.4L180.4 314.8L180.9 315.7L181.3 314.8L181.8 314.8L182.2 315.3L182.7 314.8L183.1 315L183.6 316L184 315.4L184.5 314.8L184.9 314.8L185.4 315.5L185.8 314.2L186.3 314.9L186.7 316.1L187.2 314.7L187.6 314.5L188.1 315L188.5 315L189 315.8L189.4 315.3L189.9 314.9L190.3 313.6L190.8 315L191.2 315.9L191.7 314.4L192.1 315.7L192.6 315L193 313.9L193.5 314.2L193.9 315.3L194.4 314.8L194.8 314.8L195.3 315.1L195.7 314.5L196.2 314.3L196.6 314.1L197.1 315.5L197.5 315.9L198 315.6L198.4 315.3L198.9 316.2L199.3 315.6L199.8 314L200.2 315.5L200.7 315.6L201.1 315.8L201.6 315.5L202 315.4L202.5 314.8L202.9 315.6L203.4 314.3L203.8 314.4L204.3 314.8L204.7 314.7L205.2 315.1L205.6 316.2L206.1 316.2L206.5 316.2L207 316.1L207.4 316.2L207.9 314.7L208.3 314.2L208.8 314.6L209.2 313.9L209.7 315.7L210.1 315L210.6 314.7L211 314.6L211.5 314.9L211.9 315.2L212.4 314.3L212.8 314.7L213.3 314.9L213.7 315.6L214.2 314.7L214.6 315.1L215.1 314.3L215.5 315L216 315.3L216.4 315.1L216.9 315.1L217.3 315L217.8 315.4L218.2 314.8L218.7 314.9L219.1 316.2L219.6 314.8L220 315.3L220.5 316.2L220.9 315L221.4 315.4L221.8 313.5L222.3 314.5L222.7 314.1L223.2 315L223.6 314.7L224.1 314.8L224.5 314.8L225 315.9L225.4 314.8L225.9 315.6L226.3 314.9L226.8 314.2L227.2 315.2L227.7 314.3L228.1 314.6L228.6 315.3L229 315.4L229.5 315.1L229.9 314.2L230.4 313.7L230.8 315.1L231.3 315.8L231.7 315.9L232.2 315.2L232.6 316L233.1 315L233.5 316.2L234 315.8L234.4 315.9L234.8 315.8L235.3 315.3L235.7 315.9L236.2 316.1L236.6 314.8L237.1 314.5L237.5 316.2L238 315.4L238.4 315.7L238.9 316.2L239.3 316.1L239.8 315.4L240.2 315.5L240.7 315.7L241.1 316.2L241.6 315.8L242 315.7L242.5 315.2L242.9 315.8L243.4 315.7L243.8 315.6L244.3 315.7L244.7 315.2L245.2 315.8L245.6 314.8L246.1 315.3L246.5 316.1L247 315.9L247.4 316.2L247.9 315.5L248.3 315.6L248.8 316.2L249.2 315L249.7 315.7L250.1 315.5L250.6 315.8L251 315.7L251.5 315.7L251.9 315.4L252.4 315.1L252.8 315L253.3 316.2L253.7 315.7L254.2 315.7L254.6 315.7L255.1 314.7L255.5 314.9L256 315.9L256.4 315.8L256.9 315.1L257.3 315.5L257.8 315.2L258.2 316.2L258.7 315.6L259.1 314.8L259.6 315.7L260 315.5L260.5 314.7L260.9 315.1L261.4 314.5L261.8 314.6L262.3 314.3L262.7 315.7L263.2 315.6L263.6 316.2L264.1 314.9L264.5 315.5L265 315.4L265.4 315.3L265.9 315.4L266.3 316.2L266.8 314.3L267.2 315.4L267.7 315.4L268.1 316.1L268.6 315.2L269 315.1L269.5 315.2L269.9 315.4L270.4 316.2L270.8 315.8L271.3 315.6L271.7 315.6L272.2 315.3L272.6 315.5L273.1 316.1L273.5 315.6L274 315.9L274.4 316.2L274.9 315.7L275.3 316.2L275.8 316.2L276.2 315.6L276.7 315.1L277.1 315.3L277.6 315.3L278 314.9L278.5 315L278.9 315.1L279.4 314.7L279.8 315L280.3 315.5L280.7 315L281.2 315.5L281.6 316.1L282.1 316L282.5 315.1L283 316L283.4 315.8L283.9 315.9L284.3 315.5L284.8 316L285.2 315.3L285.7 315.3L286.1 315.5L286.6 315.5L287 316L287.5 315.4L287.9 315.9L288.4 315.9L288.8 315.8L289.3 315.9L289.7 314.8L290.2 314.4L290.6 316L291.1 315.4L291.5 315.1L292 316L292.4 316.2L292.9 315.9L293.3 315.3L293.8 315.4L294.2 316L294.7 315.7L295.1 315.7L295.6 315.8L296 316.2L296.5 316.2L296.9 315.7L297.4 315.2L297.8 315.3L298.3 316.2L298.7 315.7L299.2 315.4L299.6 315.2L300 316L300.5 314.7L300.9 315L301.4 315.1L301.8 315.5L302.3 316.2L302.7 315.9L303.2 315.2L303.6 315.7L304.1 315.2L304.5 315.4L305 315.7L305.4 316L305.9 315.6L306.3 315.4L306.8 315.3L307.2 316.2L307.7 315.5L308.1 316.2L308.6 316L309 316L309.5 315.4L309.9 315.5L310.4 314.8L310.8 316.1L311.3 315L311.7 315.2L312.2 315.4L312.6 316.2L313.1 314.8L313.5 315L314 314.5L314.4 315.1L314.9 315.2L315.3 314.6L315.8 314.4L316.2 314.1L316.7 313.4L317.1 315.2L317.6 313.2L318 316.2L318.5 313.1L318.9 315L319.4 312.6L319.8 314.9L320.3 312.3L320.7 314.8L321.2 314.8L321.6 312.1L322.1 311.8L322.5 313.8L323 311.2L323.4 313L323.9 310.8L324.3 313.8L324.8 313.6L325.2 311.8L325.7 313.4L326.1 310.9L326.6 315.1L327 311L327.5 312.2L327.9 312.7L328.4 310.5L328.8 311.1L329.3 311.4L329.7 308.9L330.2 309.7L330.6 309.3L331.1 307.9L331.5 309.8L332 307.8L332.4 310.1L332.9 307.9L333.3 307.8L333.8 309.8L334.2 311.7L334.7 311L335.1 310L335.6 306.5L336 307.8L336.5 307.9L336.9 305.9L337.4 305L337.8 303.9L338.3 307.6L338.7 304.5L339.2 303.8L339.6 307.6L340.1 304.6L340.5 307L341 304.9L341.4 302.8L341.9 308.2L342.3 305.6L342.8 305.1L343.2 301.2L343.7 304.2L344.1 300.6L344.6 303.8L345 302.4L345.5 298.7L345.9 299.1L346.4 299.1L346.8 299.3L347.3 295.6L347.7 294.6L348.2 299L348.6 299.8L349.1 300.4L349.5 292.5L350 299L350.4 300.1L350.9 294.1L351.3 290.9L351.8 298.4L352.2 294L352.7 298.2L353.1 295L353.6 287.2L354 290.7L354.5 291.8L354.9 290L355.4 288.7L355.8 289.7L356.3 293.4L356.7 293L357.2 282.6L357.6 290.5L358.1 282.2L358.5 289.6L359 281L359.4 283.1L359.9 286.5L360.3 279.6L360.8 288.9L361.2 285.6L361.7 287.9L362.1 287.3L362.6 285.2L363 287.5L363.5 284.5L363.9 276.7L364.4 290L364.8 287.6L365.3 286L365.7 283.6L366.1 276.8L366.6 277.7L367 278.5L367.5 279.4L367.9 273.6L368.4 284.8L368.8 284.7L369.3 279.3L369.7 277.9L370.2 279.6L370.6 282.1L371.1 284L371.5 278.9L372 280.6L372.4 279.3L372.9 281.8L373.3 270.1L373.8 273.9L374.2 268.7L374.7 277.9L375.1 274.8L375.6 274.6L376 274.3L376.5 275.3L376.9 274.5L377.4 283L377.8 274.4L378.3 269.3L378.7 282L379.2 273.8L379.6 268.9L380.1 265.1L380.5 271.5L381 268.4L381.4 262.5L381.9 263.5L382.3 272.1L382.8 272.6L383.2 264.1L383.7 268.1L384.1 272L384.6 270.5L385 267.9L385.5 270.8L385.9 271.4L386.4 271.7L386.8 278.4L387.3 263.6L387.7 265.7L388.2 264.6L388.6 271.3L389.1 272.3L389.5 270.5L390 269.7L390.4 283L390.9 272.9L391.3 279.8L391.8 275.8L392.2 279.1L392.7 269.4L393.1 274.3L393.6 277.5L394 271.4L394.5 278.7L394.9 282.3L395.4 280.4L395.8 281.8L396.3 280.6L396.7 277.8L397.2 282.7L397.6 283.2L398.1 279.4L398.5 283.3L399 281.3L399.4 285.5L399.9 292.1L400.3 292.1L400.8 295L401.2 284.8L401.7 288.5L402.1 292.8L402.6 295.5L403 291.4L403.5 294.1L403.9 293.4L404.4 298.2L404.8 299.9L405.3 293.1L405.7 300.9L406.2 298.7L406.6 295.8L407.1 305.6L407.5 298.7L408 301.2L408.4 302.5L408.9 302L409.3 306.6L409.8 309.9L410.2 301.9L410.7 305.9L411.1 303.6L411.6 303.9L412 306.2L412.5 306.4L412.9 306.3L413.4 306.2L413.8 307.8L414.3 307.2L414.7 310.2L415.2 310.8L415.6 310.3L416.1 310.1L416.5 310.2L417 309.8L417.4 310.5L417.9 312.1L418.3 311L418.8 312.4L419.2 312.6L419.7 312.8L420.1 314.1L420.6 315.2L421 313.9L421.5 314.6L421.9 315.3L422.4 314.5L422.8 314.9L423.3 315.4L423.7 316.2L424.2 315.3L424.6 314.1L425.1 314.7L425.5 314.7L426 315.6L426.4 315L426.9 316.2L427.3 316.1L427.8 315.6L428.2 316.2L428.7 316L429.1 315.9L429.6 315.3L430 316.2L430.5 316L430.9 316.2"/>
<path d="M375.1 316.2L375.1 316.4L375.6 316.4L376 316.3L376.5 316.3L376.9 316.1L377.4 315.9L377.8 315.8L378.3 315.7L378.7 315.6L379.2 315.5L379.6 315.3L380.1 315L380.5 314.7L381 314.4L381.4 314.2L381.9 314L382.3 313.7L382.8 313.4L383.2 313.1L383.7 312.8L384.1 312.5L384.6 312.3L385 312L385.5 311.8L385.9 311.4L386.4 311L386.8 310.3L387.3 309.6L387.7 309L388.2 308.7L388.6 308.4L389.1 308.2L389.5 307.9L390 307.6L390.4 307.3L390.9 306.8L391.3 306L391.8 305.1L392.2 304.3L392.7 303.8L393.1 303.2L393.6 302.2L394 301L394.5 299.8L394.9 298.8L395.4 297.8L395.8 296.5L396.3 295.2L396.7 294L397.2 292.9L397.6 291.8L398.1 291L398.5 290.4L399 289.9L399.4 289.1L399.9 288.2L400.3 287.2L400.8 286.4L401.2 285.7L401.7 284.8L402.1 283.8L402.6 282.9L403 282L403.5 281L403.9 279.5L404.4 277.9L404.8 276.3L405.3 274.9L405.7 273.5L406.2 272.6L406.6 271.9L407.1 271.2L407.5 269.9L408 268L408.4 266.1L408.9 264.6L409.3 263.7L409.8 262.9L410.2 262L410.7 261L411.1 260.2L411.6 259.8L412 259.5L412.5 258.8L412.9 257.6L413.4 255.9L413.8 254.4L414.3 253.3L414.7 252.6L415.2 252L415.6 251.2L416.1 249.9L416.5 248.2L417 246.8L417.4 245.9L417.9 245.3L418.3 245L418.8 244.8L419.2 244.6L419.7 244L420.1 243.1L420.6 242.2L421 241.9L421.5 242L421.9 242.5L422.4 242.8L422.8 242.9L423.3 242.8L423.7 242.4L424.2 241.9L424.6 241.4L425.1 241.1L425.5 240.8L426 240.4L426.4 240L426.9 239.9L427.3 240.1L427.8 240.3L428.2 240.4L428.7 240.4L429.1 240.4L429.6 240.3L430 240.1L430.5 239.8L430.9 239.4L431.3 239.1L431.8 238.8L432.2 238.6L432.7 238.4L433.1 238.3L433.6 238.4L434 239.1L434.5 240.4L434.9 242.1L435.4 243.7L435.8 245L436.3 245.8L436.7 246.1L437.2 245.8L437.6 245.1L438.1 244.2L438.5 243.6L439 243.6L439.4 243.9L439.9 244.4L440.3 245.2L440.8 246L441.2 246.7L441.7 247.4L442.1 248.2L442.6 249.3L443 250.8L443.5 252.2L443.9 253.3L444.4 254.3L444.8 255.4L445.3 257L445.7 259L446.2 261.3L446.6 263.8L447.1 266.2L447.5 268L448 269.1L448.4 269.7L448.9 270.3L449.3 271.1L449.8 271.8L450.2 272.5L450.7 273.4L451.1 274.6L451.6 276.3L452 278.1L452.5 279.9L452.9 281.6L453.4 283.1L453.8 284.5L454.3 285.8L454.7 287.3L455.2 288.9L455.6 290.7L456.1 292.6L456.5 294.4L457 295.9L457.4 297.2L457.9 298.6L458.3 300.1L458.8 301.6L459.2 303.1L459.7 304.7L460.1 306.2L460.6 307.5L461 308.7L461.5 310L461.9 311.3L462.4 312.4L462.8 313.3L463.3 313.8L463.7 314.2L464.2 314.6L464.6 315L465.1 315.5L465.5 315.9L466 316.3L466.4 316.5L466.4 316.2Z" fill="#c0c0c0" stroke="none"/>
<path class="h20" d="M376 316.2V315.7M378.7 316.2V315M381.4 316.2V313.3M384.1 316.2V311.6M386.8 316.2V308.3M389.5 316.2V306.4M392.2 316.2V303.2M394.9 316.2V298.3M397.6 316.2V290.1M400.3 316.2V285.5M403 316.2V281.8M405.7 316.2V271.4M408.4 316.2V261.8M411.1 316.2V257.9M413.8 316.2V252.9M416.5 316.2V245.4M419.2 316.2V244.3M421.9 316.2V240.9M424.6 316.2V240.6M427.3 316.2V236.4M430 316.2V239M432.7 316.2V237.3M435.4 316.2V242.7M438.1 316.2V242.1M440.8 316.2V243.6M443.5 316.2V249.9M446.2 316.2V259.4M448.9 316.2V269M451.6 316.2V272.5M454.3 316.2V283.9M457 316.2V293.2M459.7 316.2V302.4M462.4 316.2V311M465.1 316.2V313.9"/>
<path class="ol2" d="M329.7 316.2L330.2 315.7L330.6 314.9L331.1 315.4L331.5 315.2L332 315.6L332.4 315.6L332.9 315.3L333.3 315.5L333.8 315.4L334.2 315.6L334.7 315.7L335.1 315.8L335.6 315.2L336 315.1L336.5 315.5L336.9 315.6L337.4 315.5L337.8 315.2L338.3 315.6L338.7 315.9L339.2 315.3L339.6 315L340.1 315.3L340.5 315.7L341 315.4L341.4 315.7L341.9 315.7L342.3 316.2L342.8 316.1L343.2 315.9L343.7 315.7L344.1 315.2L344.6 315L345 315.2L345.5 315.3L345.9 314.9L346.4 315.2L346.8 315.7L347.3 315.9L347.7 315.2L348.2 315.1L348.6 315.5L349.1 315.6L349.5 315.5L350 315.5L350.4 316.1L350.9 316L351.3 316L351.8 315.8L352.2 315.7L352.7 315.6L353.1 315.4L353.6 315.6L354 315.7L354.5 315.8L354.9 314.9L355.4 315L355.8 315.4L356.3 315.1L356.7 315.2L357.2 315.6L357.6 315.7L358.1 315.6L358.5 315.2L359 315.6L359.4 315.6L359.9 315.5L360.3 315.5L360.8 315.9L361.2 316L361.7 316.2L362.1 316.1L362.6 316.2L363 316.1L363.5 315.9L363.9 315.6L364.4 315.4L364.8 315.7L365.3 315.2L365.7 315.1L366.1 314.7L366.6 315.4L367 315.9L367.5 315.6L367.9 315.7L368.4 316L368.8 315.8L369.3 314.7L369.7 314.8L370.2 316.1L370.6 316.1L371.1 316.1L371.5 315.9L372 316.1L372.4 315.7L372.9 316.1L373.3 315.4L373.8 315.7L374.2 315.8L374.7 315.5L375.1 315.6L375.6 315.2L376 315.7L376.5 315.1L376.9 314.8L377.4 314.5L377.8 314.7L378.3 313.8L378.7 315L379.2 314.2L379.6 314.1L380.1 313.7L380.5 313.6L381 312.4L381.4 313L381.9 313.3L382.3 310.9L382.8 312.1L383.2 311.9L383.7 310.6L384.1 311.6L384.6 311L385 309.8L385.5 311L385.9 310L386.4 308.3L386.8 307L387.3 308.1L387.7 307.5L388.2 305.8L388.6 307.7L389.1 306.2L389.5 305.7L390 306.4L390.4 306.7L390.9 303.2L391.3 300.9L391.8 300.4L392.2 298.9L392.7 303.2L393.1 299.1L393.6 296.4L394 298.5L394.5 298.3L394.9 295.2L395.4 294.8L395.8 293L396.3 293L396.7 290.2L397.2 290.1L397.6 289.8L398.1 289.9L398.5 287.1L399 288.4L399.4 284.7L399.9 283.3L400.3 282.6L400.8 285.5L401.2 281.4L401.7 280.4L402.1 278.3L402.6 281.8L403 278.9L403.5 276.7L403.9 272.6L404.4 275.4L404.8 271.1L405.3 271.4L405.7 266.3L406.2 263L406.6 271.3L407.1 267L407.5 264.5L408 260.8L408.4 260.9L408.9 261.8L409.3 262.9L409.8 258.6L410.2 257.9L410.7 253.3L411.1 253.2L411.6 257.9L412 259.2L412.5 253.4L412.9 250.7L413.4 252.9L413.8 250.9L414.3 244.9L414.7 245.9L415.2 251.5L415.6 245.3L416.1 245.1L416.5 245.4L417 242.8L417.4 242.2L417.9 236.5L418.3 242.1L418.8 244.3L419.2 243.2L419.7 239.5L420.1 235.8L420.6 239L421 238.9L421.5 239.3L421.9 240.9L422.4 239.2L422.8 242.5L423.3 236.8L423.7 237.3L424.2 237.9L424.6 240.6L425.1 238.8L425.5 239.4L426 236.8L426.4 238.3L426.9 236.4L427.3 234.6L427.8 233.5L428.2 239.8L428.7 237.8L429.1 239.8L429.6 233.2L430 239L430.5 232.8L430.9 238L431.3 233.7L431.8 238.1L432.2 237.3L432.7 236.3L433.1 236.5L433.6 237.3L434 235.1L434.5 233.7L434.9 234.8L435.4 238.7L435.8 242.7L436.3 237.4L436.7 245.8L437.2 236.3L437.6 236.7L438.1 242.1L438.5 237.5L439 241.4L439.4 236.5L439.9 242.6L440.3 243.4L440.8 243.6L441.2 242L441.7 246.3L442.1 238.5L442.6 246.6L443 242.1L443.5 248.6L443.9 249.9L444.4 252.2L444.8 253.5L445.3 251.9L445.7 251.4L446.2 255.5L446.6 259.4L447.1 258.3L447.5 262.2L448 268.1L448.4 263.2L448.9 269L449.3 268.1L449.8 268.1L450.2 270.6L450.7 271.8L451.1 269.4L451.6 272.1L452 272.5L452.5 276.5L452.9 277.9L453.4 276.5L453.8 282.4L454.3 282.1L454.7 283.9L455.2 285.2L455.6 286.2L456.1 288.5L456.5 289L457 293.2L457.4 292.7L457.9 296.5L458.3 295L458.8 296.7L459.2 299.8L459.7 301.6L460.1 302.4L460.6 303.1L461 306.7L461.5 307.4L461.9 306.8L462.4 309.1L462.8 311L463.3 312.6L463.7 312.1L464.2 313.7L464.6 313.2L465.1 313.9L465.5 313.5L466 315.3L466.4 315L466.9 315.9L467.3 316.1L467.8 316L468.2 316.2L468.7 315.8L469.1 316.2L469.6 316.2"/>
<path d="M177 316.2L177.3 314.8L177.7 315.2L178.2 315.4L178.6 315.5L179.1 315.8L179.5 315.4L180 314.6L180.4 314.9L180.9 315L181.3 314.1L181.8 314L182.2 314.4L182.7 314.8L183.1 315.1L183.6 315.7L184 315.6L184.5 314.9L184.9 314.8L185.4 314.9L185.8 314.8L186.3 315.5L186.7 315.9L187.2 315.5L187.6 314.5L188.1 314.7L188.5 314.9L189 315L189.4 315.1L189.9 314.2L190.3 314.1L190.8 315.2L191.2 315.3L191.7 314.7L192.1 315L192.6 315.1L193 314.1L193.5 314.2L193.9 314.9L194.4 314.8L194.8 314.7L195.3 315.1L195.7 315.1L196.2 315L196.6 314.8L197.1 315.3L197.5 315.6L198 315.6L198.4 315.5L198.9 315.7L199.3 315.4L199.8 314.8L200.2 315L200.7 315.3L201.1 315.5L201.6 315.7L202 315.4L202.5 314.7L202.9 315L203.4 314.6L203.8 314.4L204.3 314.5L204.7 314.7L205.2 315.5L205.6 315.7L206.1 315.7L206.5 315.8L207 315.8L207.4 315.2L207.9 314.5L208.3 314.7L208.8 314.4L209.2 314.3L209.7 314.5L210.1 315L210.6 315.3L211 315.2L211.5 314.7L211.9 314.8L212.4 314.5L212.8 314.2L213.3 314.8L213.7 315L214.2 314.7L214.6 315.1L215.1 315L215.5 315.1L216 315L216.4 315L216.9 314.6L217.3 315.1L217.8 315.4L218.2 314.9L218.7 315.3L219.1 315.4L219.6 315L220 315.6L220.5 315.9L220.9 315.8L221.4 315.1L221.8 314.5L222.3 314.8L222.7 314.5L223.2 315.1L223.6 315.1L224.1 314.4L224.5 314.5L225 315.1L225.4 315L225.9 315.3L226.3 315.2L226.8 314.5L227.2 314.7L227.7 314.6L228.1 314.7L228.6 315.4L229 315.6L229.5 315.1L229.9 314.2L230.4 314.1L230.8 314.7L231.3 315.3L231.7 315.6L232 316.2Z" fill="#000" stroke="none"/>
<path d="M232 316.2L232.2 315.6L232.6 315.9L233.1 315.8L233.5 315.7L234 315.5L234.4 315.8L234.8 315.9L235.3 315.9L235.7 315.8L236.2 315.6L236.6 315.2L237.1 315.1L237.5 315.2L238 315.6L238.4 315.8L238.9 315.9L239.3 315.9L239.8 315.5L240.2 315.5L240.7 315.6L241.1 315.8L241.6 315.9L242 315.4L242.5 315.3L242.9 315.6L243.4 315.8L243.8 315.9L244.3 315.8L244.7 315.4L245.2 315.2L245.6 315L246.1 315.4L246.5 315.9L247 315.8L247.4 315.6L247.9 315.6L248.3 315.4L248.8 315.3L249.2 315.2L249.7 315.4L250.1 315.6L250.6 315.7L251 315.9L251.5 315.8L251.9 315.3L252.4 315.3L252.8 315.3L253.3 315.4L253.7 315.7L254.2 315.5L254.6 315.2L255.1 315.2L255.5 315.3L256 315.5L256.4 315.3L256.9 315.5L257.3 315.3L257.8 315L258.2 315.4L258.7 315.5L259.1 315.3L259.6 315.5L260 315.4L260.5 315.4L260.9 315.4L261.4 315.1L261.8 314.8L262.3 314.8L262.7 315L263.2 315.3L263.6 315.8L264.1 315.8L264.5 315.6L265 315.4L265.4 315L265.9 315L266.3 315.2L266.8 315.2L267.2 315.4L267.7 315.5L268.1 315.5L268.6 315.2L269 315.2L269.5 315.2L269.9 315.7L270.4 315.9L270.8 316L271.3 316L271.7 315.8L272.2 315.5L272.6 315.5L273.1 315.7L273.5 315.8L274 315.7L274.4 315.8L274.9 316L275.3 316L275.8 316L276.2 315.9L276.7 315.5L277.1 315.2L277.6 315.3L278 315.1L278.5 315L278.9 314.8L279.4 314.9L279.8 315.1L280.3 315.5L280.7 315.5L281.2 315.7L281.6 315.9L282.1 316L282.5 315.9L283 315.7L283.4 315.7L283.9 315.6L284.3 315.6L284.8 315.5L285.2 315.5L285.7 315.6L286.1 315.2L286.6 315.2L287 315.4L287.5 315.4L287.9 315.5L288.4 315.6L288.8 315.6L289.3 315.6L289.7 315.1L290.2 315.1L290.6 315.1L291.1 315.1L291.5 315.2L292 315.6L292.4 315.9L292.9 316L293.3 315.9L293.8 315.9L294.2 315.9L294.7 315.8L295.1 315.5L295.6 315.7L296 315.7L296.5 315.4L296.9 315.6L297.4 315.6L297.8 315.6L298.3 315.9L298.7 315.6L299.2 315.1L299.6 315.3L300 315.5L300.5 315L300.9 314.9L301.4 315.4L301.8 315.9L302.3 315.9L302.7 315.9L303.2 315.9L303.6 315.7L304.1 315.7L304.5 315.6L305 315.6L305 316.2Z" fill="#000" stroke="none"/>
<path d="M330 316.2L330.2 315.5L330.6 315.1L331.1 315.1L331.5 315.5L332 315.8L332.4 315.5L332.9 315.2L333.3 315.1L333.8 315.4L334.2 315.8L334.7 315.8L335.1 315.7L335.6 315.5L336 315.2L336.5 315.5L336.9 315.5L337.4 315.6L337.8 315.7L338.3 315.6L338.7 315.6L339.2 315.3L339.6 315.4L340.1 315.5L340.5 315.6L341 315.4L341.4 315.4L341.9 315.8L342.3 316.1L342.8 316L343.2 315.8L343.7 315.6L344.1 315.5L344.6 315.2L345 315.2L345.5 315.3L345.9 315.2L346.4 315.1L346.8 315.6L347.3 315.7L347.7 315.5L348.2 315.1L348.6 315.5L349.1 315.6L349.5 315.4L350 315.6L350.4 316L350.9 315.9L351.3 315.7L351.8 315.7L352.2 315.6L352.7 315.5L353.1 315.2L353.6 315.5L354 315.6L354.5 315.3L354.9 315L355.4 314.9L355.8 315.1L356.3 315.1L356.7 315.3L357.2 315.6L357.6 315.7L358.1 315.6L358.5 315.3L359 315.3L359.4 315.5L359.9 315.6L360.3 315.5L360.8 315.7L361.2 316L361.7 316.1L362.1 316.1L362.6 315.9L363 315.8L363.5 315.6L363.9 315.5L364.4 315.8L364.8 315.8L365.3 315.4L365.7 315.1L366.1 315L366.6 315.5L367 315.9L367.5 315.8L367.9 315.5L368.4 315.7L368.8 315.6L369.3 315L369.7 315.1L370 316.2Z" fill="#000" stroke="none"/>
<path class="ax" d="M37.5 186.3 V316.5 H497.5"/>
<path class="tk" d="M37.5 316.5h-4.2M37.5 303.5h-1.3M37.5 290.5h-1.3M37.5 277.5h-1.3M37.5 264.5h-1.3M37.5 251.5h-2.2M37.5 238.5h-1.3M37.5 225.5h-1.3M37.5 212.5h-1.3M37.5 199.5h-1.3M37.5 186.5h-3M37.5 316.2v2M72.1 316.2v1.8M92.4 316.2v1.8M106.7 316.2v1.8M117.9 316.2v1.8M127 316.2v1.8M134.7 316.2v1.8M141.4 316.2v1.8M147.2 316.2v1.8M152.5 316.2v2.6M187.1 316.2v1.8M207.4 316.2v1.8M221.7 316.2v1.8M232.9 316.2v1.8M242 316.2v1.8M249.7 316.2v1.8M256.4 316.2v1.8M262.2 316.2v1.8M267.5 316.2v2.6M302.1 316.2v1.8M322.4 316.2v1.8M336.7 316.2v1.8M347.9 316.2v1.8M357 316.2v1.8M364.7 316.2v1.8M371.4 316.2v1.8M377.2 316.2v1.8M382.5 316.2v2.6M417.1 316.2v1.8M437.4 316.2v1.8M451.7 316.2v1.8M462.9 316.2v1.8M472 316.2v1.8M479.7 316.2v1.8M486.4 316.2v1.8M492.2 316.2v1.8M497.5 316.2v2.6"/>
<text class="n" transform="translate(33.5 193.9) rotate(-90)" textLength="11.2" lengthAdjust="spacingAndGlyphs">100</text>
<text class="n" transform="translate(33.2 318.2) rotate(-90)">0</text>
<text class="n" x="31.5" y="324.2" textLength="6.8" lengthAdjust="spacing" style="font-size:6.6px">10</text><text class="s" x="39.2" y="322.5">0</text>
<text class="n" x="146.5" y="324.2" textLength="6.8" lengthAdjust="spacing" style="font-size:6.6px">10</text><text class="s" x="154.2" y="322.5">1</text>
<text class="n" x="261.5" y="324.2" textLength="6.8" lengthAdjust="spacing" style="font-size:6.6px">10</text><text class="s" x="269.2" y="322.5">2</text>
<text class="n" x="376.5" y="324.2" textLength="6.8" lengthAdjust="spacing" style="font-size:6.6px">10</text><text class="s" x="384.2" y="322.5">3</text>
<text class="n" x="491.5" y="324.2" textLength="6.8" lengthAdjust="spacing" style="font-size:6.6px">10</text><text class="s" x="499.2" y="322.5">4</text>
<text class="t" x="49.5" y="199.7" textLength="70.5" lengthAdjust="spacing">W/O GROWTH FACTOR</text>
<text class="l" x="285.8" y="207">6D</text>
<text class="l" x="370.8" y="207">72H</text>
<text class="l" x="422" y="207">20H</text>
</g>
<g>
<path class="ol" d="M228.6 484.2L229 484.1L229.5 484.1L229.9 484.2L230.4 483.1L230.8 484L231.3 483.8L231.7 484.2L232.2 483.6L232.6 483.2L233.1 484.1L233.5 482.4L234 483.8L234.4 483.1L234.8 483.3L235.3 483.2L235.7 484.2L236.2 481.6L236.6 484.2L237.1 480.6L237.5 482.8L238 481.9L238.4 479.6L238.9 482L239.3 480.8L239.8 481.8L240.2 480.2L240.7 479.1L241.1 477.6L241.6 482.9L242 478.9L242.5 477.6L242.9 476.9L243.4 479.3L243.8 477.7L244.3 475.5L244.7 476.7L245.2 475L245.6 478.9L246.1 477.9L246.5 476.3L247 477.4L247.4 474.8L247.9 477.8L248.3 474.9L248.8 478.1L249.2 476.7L249.7 474.3L250.1 473.3L250.6 476.2L251 477L251.5 472.6L251.9 475.5L252.4 472.3L252.8 470L253.3 471L253.7 475.5L254.2 469L254.6 468.9L255.1 471.2L255.5 471.4L256 467.1L256.4 469.1L256.9 468.4L257.3 466.3L257.8 467.2L258.2 464.7L258.7 464.1L259.1 466.8L259.6 466.4L260 467L260.5 462.5L260.9 468.5L261.4 462.3L261.8 465.9L262.3 469L262.7 460.4L263.2 461.4L263.6 461.3L264.1 462.5L264.5 461.1L265 462.3L265.4 455.6L265.9 454.9L266.3 458.7L266.8 457.9L267.2 456.3L267.7 453.6L268.1 455.1L268.6 456.7L269 455.3L269.5 452.8L269.9 453.5L270.4 453.6L270.8 447.1L271.3 449.1L271.7 446.5L272.2 452.3L272.6 445L273.1 447.1L273.5 447.3L274 448L274.4 447L274.9 445.4L275.3 442.2L275.8 442.1L276.2 433.5L276.7 438L277.1 438.1L277.6 438.6L278 440.8L278.5 440.1L278.9 434.2L279.4 441.5L279.8 426.8L280.3 426.2L280.7 439L281.2 426L281.6 425.7L282.1 424.7L282.5 426L283 420.7L283.4 431.4L283.9 429.1L284.3 423.4L284.8 425.4L285.2 432L285.7 420.6L286.1 419L286.6 424.4L287 421L287.5 417.6L287.9 432.2L288.4 424.1L288.8 425.2L289.3 421.1L289.7 426.1L290.2 425.9L290.6 418.1L291.1 409.6L291.5 424.7L292 410L292.4 413L292.9 412.5L293.3 410.7L293.8 419.3L294.2 411.2L294.7 424.5L295.1 420.6L295.6 414.7L296 412.2L296.5 423.1L296.9 425.8L297.4 413.8L297.8 414.3L298.3 412.3L298.7 416.2L299.2 422.6L299.6 410.1L300 412L300.5 415.2L300.9 405.3L301.4 415.1L301.8 408.7L302.3 417.3L302.7 431.6L303.2 422.9L303.6 431.2L304.1 418.7L304.5 411.9L305 426.9L305.4 415.1L305.9 420.6L306.3 415.3L306.8 418.5L307.2 426L307.7 418.9L308.1 422.7L308.6 419L309 414.9L309.5 426.2L309.9 418.6L310.4 427.9L310.8 425.2L311.3 428.9L311.7 433.9L312.2 431.4L312.6 435.1L313.1 431.7L313.5 439.9L314 440.5L314.4 433.8L314.9 436.3L315.3 437.3L315.8 438.5L316.2 437.7L316.7 441.1L317.1 440.5L317.6 448.2L318 444.3L318.5 450.1L318.9 453L319.4 450.2L319.8 448L320.3 451.3L320.7 446.8L321.2 451L321.6 452.8L322.1 454.8L322.5 460.6L323 456.9L323.4 457.9L323.9 454.3L324.3 462.2L324.8 461L325.2 463.6L325.7 461.8L326.1 468L326.6 463L327 464.5L327.5 464.8L327.9 462.4L328.4 466.9L328.8 466.1L329.3 468L329.7 465.9L330.2 466.2L330.6 466.9L331.1 469.7L331.5 473.9L332 470.6L332.4 475.4L332.9 474.5L333.3 474.4L333.8 475.9L334.2 474.1L334.7 475.3L335.1 476.4L335.6 473.7L336 477.1L336.5 474L336.9 475.3L337.4 477.5L337.8 476.4L338.3 478.6L338.7 478.8L339.2 476.4L339.6 480.8L340.1 477.9L340.5 477.2L341 482.3L341.4 477.7L341.9 482.3L342.3 482.8L342.8 482.8L343.2 481.8L343.7 481.2L344.1 483L344.6 481.1L345 480.1L345.5 482.1L345.9 481.3L346.4 481L346.8 480.5L347.3 482L347.7 481.4L348.2 481.8L348.6 482.3L349.1 482.8L349.5 482.3L350 482.2L350.4 483.9L350.9 483.2L351.3 482.8L351.8 482.9L352.2 483L352.7 482.2L353.1 482.8L353.6 484.2L354 482.7L354.5 484.1L354.9 484.2L355.4 483.2L355.8 484L356.3 484.2L356.7 483.7L357.2 483.8L357.6 483.9L358.1 484.2L358.5 483.9L359 484.2"/>
<path class="h72" d="M313.1 484.2V483.7M315.8 484.2V483.4M318.5 484.2V481.4M321.2 484.2V479.2M323.9 484.2V482.3M326.6 484.2V478.8M329.3 484.2V477.1M332 484.2V477.1M334.7 484.2V473.4M337.4 484.2V472.1M340.1 484.2V472M342.8 484.2V471.6M345.5 484.2V464.1M348.2 484.2V465.9M350.9 484.2V454.5M353.6 484.2V455M356.3 484.2V459.8M359 484.2V458.1M361.7 484.2V450.3M364.4 484.2V442.5M367 484.2V448.6M369.7 484.2V433.2M372.4 484.2V432.3M375.1 484.2V436.2M377.8 484.2V438.5M380.5 484.2V437.8M383.2 484.2V429.7M385.9 484.2V431.8M388.6 484.2V444.1M391.3 484.2V441.8M394 484.2V438.8M396.7 484.2V447.4M399.4 484.2V454.5M402.1 484.2V461.4M404.8 484.2V463.4M407.5 484.2V467.7M410.2 484.2V473.1M412.9 484.2V476.8M415.6 484.2V478.7M418.3 484.2V480.5M421 484.2V481M423.7 484.2V483.1"/>
<path class="ol" d="M181.8 484.2L182.2 483L182.7 482.3L183.1 481.6L183.6 482.7L184 482.7L184.5 483.7L184.9 482.7L185.4 484.2L185.8 483.8L186.3 483.7L186.7 482.9L187.2 483.7L187.6 483.2L188.1 482.5L188.5 482.2L189 482.3L189.4 481.8L189.9 483.3L190.3 483L190.8 483.2L191.2 482.5L191.7 483.9L192.1 482.9L192.6 483.3L193 482.3L193.5 483.5L193.9 483.2L194.4 483.1L194.8 483.5L195.3 483.7L195.7 483.7L196.2 482.6L196.6 482.6L197.1 483.5L197.5 484.2L198 482.5L198.4 484.1L198.9 484L199.3 483.8L199.8 482.5L200.2 482L200.7 482.8L201.1 483.2L201.6 483L202 482L202.5 482.3L202.9 482.9L203.4 482.2L203.8 483.8L204.3 483.6L204.7 483.2L205.2 483.6L205.6 483L206.1 483L206.5 483.2L207 481.6L207.4 481.7L207.9 481.7L208.3 482.1L208.8 483L209.2 483.2L209.7 483.9L210.1 484L210.6 483.9L211 483.8L211.5 484.1L211.9 483L212.4 483.9L212.8 483.2L213.3 483.4L213.7 482.8L214.2 483.7L214.6 483.6L215.1 482.3L215.5 482.8L216 482L216.4 482.6L216.9 483.2L217.3 482.5L217.8 482.3L218.2 481.4L218.7 483.2L219.1 483.3L219.6 483.6L220 483.5L220.5 483.7L220.9 483.4L221.4 481.9L221.8 481.9L222.3 481.9L222.7 482.3L223.2 481.9L223.6 481.8L224.1 482.1L224.5 483.3L225 482.8L225.4 483.8L225.9 483.3L226.3 483.5L226.8 483.2L227.2 482.6L227.7 483.4L228.1 483.2L228.6 483.7L229 482.8L229.5 483.4L229.9 481.8L230.4 482.6L230.8 482.9L231.3 483.6L231.7 483.4L232.2 481.9L232.6 482.9L233.1 483.6L233.5 482.9L234 482.7L234.4 482.7L234.8 482.9L235.3 483.8L235.7 483.8L236.2 483.2L236.6 482.7L237.1 483.3L237.5 483.9L238 483.9L238.4 483.7L238.9 483L239.3 484L239.8 483.2L240.2 483.6L240.7 484L241.1 482.9L241.6 484L242 483.1L242.5 483.7L242.9 483.5L243.4 483.6L243.8 483.9L244.3 483.4L244.7 483.2L245.2 484.2L245.6 483.4L246.1 483.6L246.5 483.5L247 483L247.4 483.6L247.9 483.5L248.3 482.6L248.8 483.6L249.2 483.6L249.7 483.5L250.1 484L250.6 483.9L251 482.8L251.5 483.7L251.9 482.6L252.4 484.2L252.8 484.2L253.3 483.5L253.7 483.7L254.2 482.8L254.6 483.2L255.1 484L255.5 484L256 483.9L256.4 482.3L256.9 483.3L257.3 483.3L257.8 483.1L258.2 483.3L258.7 483.1L259.1 483.5L259.6 483.7L260 483.9L260.5 484.2L260.9 483.1L261.4 483.7L261.8 484.2L262.3 484L262.7 483.5L263.2 483.5L263.6 484L264.1 484.1L264.5 484.1L265 483.9L265.4 483.5L265.9 483.5L266.3 484.1L266.8 483.6L267.2 484.2L267.7 483.7L268.1 483.6L268.6 483.2L269 482.9L269.5 483.6L269.9 482.7L270.4 483.5L270.8 483.8L271.3 484.2L271.7 483.8L272.2 484L272.6 483.9L273.1 483.4L273.5 484.1L274 483.5L274.4 483.3L274.9 482.8L275.3 483L275.8 483.7L276.2 483.5L276.7 483.4L277.1 482.6L277.6 483L278 483.6L278.5 483.3L278.9 484.2L279.4 484L279.8 483.9L280.3 483L280.7 483.5L281.2 483.7L281.6 483.5L282.1 483.3L282.5 483.6L283 483.5L283.4 482.7L283.9 483.2L284.3 482.8L284.8 483.3L285.2 483.1L285.7 483.2L286.1 482.8L286.6 483.8L287 484.2L287.5 484.2L287.9 484.2L288.4 483.7L288.8 483.5L289.3 483L289.7 483.4L290.2 483L290.6 482.8L291.1 482.6L291.5 482.6L292 483.5L292.4 483.2L292.9 483.2L293.3 483.1L293.8 483.9L294.2 483.6L294.7 483.8L295.1 483L295.6 482.8L296 482.7L296.5 483.3L296.9 482.8L297.4 483.7L297.8 482.9L298.3 484L298.7 483.7L299.2 484.2L299.6 483.5L300 483.3L300.5 482.4L300.9 482.1L301.4 482.7L301.8 483.1L302.3 483.3L302.7 483.7L303.2 484.2L303.6 484.2L304.1 484.2L304.5 483.6L305 484.2L305.4 483.7L305.9 484.2L306.3 482.8L306.8 482.9L307.2 483.8L307.7 482.6L308.1 483.2L308.6 482.8L309 483.6L309.5 483.8L309.9 482.3L310.4 482.7L310.8 482.5L311.3 482.3L311.7 483L312.2 483.4L312.6 482.6L313.1 484.2L313.5 482.7L314 481.5L314.4 482.8L314.9 481.3L315.3 482.8L315.8 483.4L316.2 481.5L316.7 482.2L317.1 481L317.6 482.6L318 481L318.5 481.4L318.9 481.1L319.4 480L319.8 482.2L320.3 481.2L320.7 479.4L321.2 479.2L321.6 479.5L322.1 482.1L322.5 479.9L323 480.7L323.4 480.5L323.9 482.3L324.3 483.1L324.8 477.9L325.2 478L325.7 481.7L326.1 479.7L326.6 478.8L327 479.8L327.5 477.7L327.9 479.2L328.4 480.9L328.8 478.9L329.3 477.1L329.7 479.6L330.2 476.1L330.6 475.5L331.1 476L331.5 475.9L332 477.1L332.4 475.5L332.9 478L333.3 481.3L333.8 477.6L334.2 473.6L334.7 473.4L335.1 477.8L335.6 475.6L336 476.5L336.5 477.4L336.9 475.1L337.4 472.1L337.8 473.6L338.3 474L338.7 478.6L339.2 470.1L339.6 475.4L340.1 472L340.5 469.5L341 470.8L341.4 468.6L341.9 477L342.3 472.6L342.8 471.6L343.2 473.2L343.7 473.5L344.1 465.7L344.6 471.8L345 464L345.5 464.1L345.9 467.5L346.4 470.3L346.8 467.1L347.3 466.9L347.7 466.1L348.2 465.9L348.6 462.4L349.1 462.9L349.5 461.4L350 460.7L350.4 455.4L350.9 454.5L351.3 458.6L351.8 458.3L352.2 457.9L352.7 452.9L353.1 453.3L353.6 455L354 455.4L354.5 451.9L354.9 449.3L355.4 455L355.8 450.8L356.3 459.8L356.7 454.5L357.2 449.1L357.6 457.6L358.1 456.9L358.5 448.7L359 458.1L359.4 450.4L359.9 442.1L360.3 446.5L360.8 441.2L361.2 440.7L361.7 450.3L362.1 447.3L362.6 444.2L363 440.3L363.5 438.3L363.9 440.9L364.4 442.5L364.8 448.7L365.3 438.2L365.7 445.6L366.1 437.5L366.6 435.4L367 448.6L367.5 433.6L367.9 441.6L368.4 434.9L368.8 435.1L369.3 431.8L369.7 433.2L370.2 431.1L370.6 434.2L371.1 442.2L371.5 438.8L372 434L372.4 432.3L372.9 436.1L373.3 440.3L373.8 442.8L374.2 435.6L374.7 427.6L375.1 436.2L375.6 438L376 432.1L376.5 431.3L376.9 434.3L377.4 445.5L377.8 438.5L378.3 435.9L378.7 431.6L379.2 438.2L379.6 436.1L380.1 440.8L380.5 437.8L381 426.6L381.4 430.5L381.9 432.7L382.3 439.4L382.8 441.4L383.2 429.7L383.7 435.3L384.1 432.3L384.6 434.1L385 435.2L385.5 449.1L385.9 431.8L386.4 428.9L386.8 436.9L387.3 438.6L387.7 437L388.2 439.9L388.6 444.1L389.1 441.3L389.5 440L390 435.1L390.4 445.7L390.9 442.9L391.3 441.8L391.8 440.1L392.2 435.9L392.7 440.5L393.1 441L393.6 450.4L394 438.8L394.5 454.1L394.9 440.6L395.4 443.5L395.8 447.8L396.3 453.7L396.7 447.4L397.2 452.7L397.6 445.7L398.1 464.7L398.5 452.8L399 464.8L399.4 454.5L399.9 456.9L400.3 453.1L400.8 461.7L401.2 461.9L401.7 467.1L402.1 461.4L402.6 459.9L403 462.2L403.5 465.6L403.9 463.7L404.4 461.7L404.8 463.4L405.3 471.7L405.7 467.5L406.2 469.5L406.6 476L407.1 466.2L407.5 467.7L408 472.4L408.4 467.9L408.9 470L409.3 472.6L409.8 471.1L410.2 473.1L410.7 474.9L411.1 471.2L411.6 478L412 472.5L412.5 474.8L412.9 476.8L413.4 475.4L413.8 478.7L414.3 478L414.7 475.6L415.2 477.1L415.6 478.7L416.1 479L416.5 477.5L417 477.9L417.4 480.4L417.9 478.6L418.3 480.5L418.8 480.9L419.2 480L419.7 482.3L420.1 483.6L420.6 482L421 481L421.5 482.6L421.9 481.5L422.4 481.4L422.8 483.1L423.3 482.8L423.7 483.1L424.2 482.5L424.6 482.8L425.1 483.2L425.5 482.4L426 483.3L426.4 483.5L426.9 484.2L427.3 483.8L427.8 483.1L428.2 483.6L428.7 483.9L429.1 484.1L429.6 484.2L430 484.2L430.5 483.7L430.9 484.2"/>
<path d="M373.8 484.2L373.8 484.2L374.2 484.2L374.7 484.2L375.1 484.1L375.6 483.9L376 483.8L376.5 483.7L376.9 483.6L377.4 483.5L377.8 483.4L378.3 483.1L378.7 482.8L379.2 482.6L379.6 482.6L380.1 482.6L380.5 482.6L381 482.6L381.4 482.4L381.9 482.2L382.3 481.8L382.8 481.5L383.2 481L383.7 480.6L384.1 480.3L384.6 480.1L385 479.8L385.5 479.5L385.9 479L386.4 478.5L386.8 478.2L387.3 478L387.7 477.7L388.2 477.2L388.6 476.6L389.1 475.8L389.5 475.1L390 474.3L390.4 473.4L390.9 472.3L391.3 471.2L391.8 470.2L392.2 469.5L392.7 468.8L393.1 468L393.6 467.1L394 465.9L394.5 464.4L394.9 463.2L395.4 462.2L395.8 461.2L396.3 460L396.7 458.9L397.2 458L397.6 457.1L398.1 456.3L398.5 455.7L399 455.1L399.4 454.4L399.9 453L400.3 451.2L400.8 449.3L401.2 447.7L401.7 446.5L402.1 445.5L402.6 444.8L403 444.1L403.5 443.3L403.9 442.3L404.4 441L404.8 439.8L405.3 438.6L405.7 437.6L406.2 436.5L406.6 435.3L407.1 434L407.5 432.9L408 432L408.4 431.1L408.9 430L409.3 429.1L409.8 428.4L410.2 427.7L410.7 427.1L411.1 426.5L411.6 425.3L412 423.1L412.5 420.2L412.9 417.4L413.4 415.4L413.8 414.4L414.3 414.1L414.7 414.1L415.2 414.1L415.6 413.8L416.1 413.2L416.5 412.2L417 411.4L417.4 411.2L417.9 411.6L418.3 412.1L418.8 412.2L419.2 411.9L419.7 411.1L420.1 409.8L420.6 408.7L421 408.3L421.5 408.2L421.9 408.3L422.4 408.2L422.8 408L423.3 407.7L423.7 407.4L424.2 407.1L424.6 406.7L425.1 405.9L425.5 405.1L426 404.7L426.4 405.2L426.9 406.3L427.3 407.3L427.8 407.7L428.2 407.8L428.7 407.5L429.1 407.2L429.6 407.1L430 407.5L430.5 408.4L430.9 409.7L431.3 410.9L431.8 411.8L432.2 412.8L432.7 414L433.1 415.4L433.6 416.5L434 416.9L434.5 416.9L434.9 416.7L435.4 416.8L435.8 417.5L436.3 418.4L436.7 419.2L437.2 420L437.6 420.9L438.1 422L438.5 423L439 423.8L439.4 424.2L439.9 424.6L440.3 425.3L440.8 426.1L441.2 427.1L441.7 428.3L442.1 429.7L442.6 431.2L443 432.4L443.5 433.5L443.9 434.5L444.4 435.4L444.8 436.1L445.3 436.7L445.7 437.2L446.2 437.8L446.6 438.7L447.1 439.7L447.5 440.7L448 441.5L448.4 442.2L448.9 443.2L449.3 444.7L449.8 446.5L450.2 448.5L450.7 450.4L451.1 451.9L451.6 453L452 453.9L452.5 454.8L452.9 456L453.4 457.3L453.8 458.5L454.3 459.4L454.7 460L455.2 460.6L455.6 461.6L456.1 463.1L456.5 464.7L457 466.3L457.4 467.9L457.9 469.4L458.3 470.9L458.8 472.4L459.2 473.6L459.7 474.7L460.1 475.7L460.6 476.8L461 478L461.5 479.1L461.9 480L462.4 480.9L462.8 481.6L463.3 482.2L463.7 482.7L464.2 483.2L464.6 483.6L465.1 484L465.5 484.3L466 484.5L466 484.2Z" fill="#c0c0c0" stroke="none"/>
<path class="h20" d="M376 484.2V483.2M378.7 484.2V481.8M381.4 484.2V482M384.1 484.2V479.5M386.8 484.2V477.2M389.5 484.2V474.6M392.2 484.2V468.3M394.9 484.2V461.9M397.6 484.2V454.3M400.3 484.2V448.8M403 484.2V442.8M405.7 484.2V436.3M408.4 484.2V428.2M411.1 484.2V426.1M413.8 484.2V409.9M416.5 484.2V409M419.2 484.2V411.9M421.9 484.2V407.8M424.6 484.2V406.6M427.3 484.2V407.4M430 484.2V405.5M432.7 484.2V411.7M435.4 484.2V412.9M438.1 484.2V419.6M440.8 484.2V423.3M443.5 484.2V432.3M446.2 484.2V436.4M448.9 484.2V441.1M451.6 484.2V451.8M454.3 484.2V459.3M457 484.2V464.9M459.7 484.2V474.1M462.4 484.2V479.7M465.1 484.2V482.9"/>
<path class="ol2" d="M329.7 484.2L330.2 483.6L330.6 482.9L331.1 482.8L331.5 483.4L332 483.8L332.4 483.7L332.9 483.6L333.3 483.8L333.8 483.3L334.2 483.6L334.7 483.8L335.1 483.3L335.6 483.2L336 483.3L336.5 483.4L336.9 483.4L337.4 483.2L337.8 482.7L338.3 483.4L338.7 483.4L339.2 483.6L339.6 483.1L340.1 483.6L340.5 483.9L341 483.5L341.4 483.5L341.9 483.5L342.3 483.3L342.8 483.2L343.2 483.5L343.7 483.4L344.1 483.4L344.6 483.8L345 483.4L345.5 483.3L345.9 483.1L346.4 483.4L346.8 483.9L347.3 483.6L347.7 483.4L348.2 483.9L348.6 483.5L349.1 482.8L349.5 482.7L350 483.1L350.4 483.9L350.9 483.7L351.3 483.5L351.8 483.5L352.2 483.9L352.7 483.9L353.1 483.1L353.6 482.7L354 482.8L354.5 483.3L354.9 483.5L355.4 483.1L355.8 483.4L356.3 483.4L356.7 483.4L357.2 483.4L357.6 482.9L358.1 484L358.5 484.2L359 483.7L359.4 483.3L359.9 483.5L360.3 483.5L360.8 483.4L361.2 482.7L361.7 483.1L362.1 483.3L362.6 483L363 482.6L363.5 483.2L363.9 483.5L364.4 483.2L364.8 483.5L365.3 483.7L365.7 483.4L366.1 483.3L366.6 482.7L367 482.7L367.5 483.4L367.9 483.7L368.4 484.2L368.8 484L369.3 484.2L369.7 484L370.2 483.8L370.6 484L371.1 484.2L371.5 483.7L372 483.2L372.4 483.6L372.9 483.4L373.3 483.2L373.8 483.2L374.2 483.6L374.7 482.9L375.1 482.8L375.6 483.2L376 482.6L376.5 483L376.9 483L377.4 482.7L377.8 481.7L378.3 481.6L378.7 481.8L379.2 480.8L379.6 481.9L380.1 480.5L380.5 480.9L381 482L381.4 479.9L381.9 480L382.3 480.9L382.8 479.5L383.2 478.9L383.7 479.2L384.1 478L384.6 479.5L385 476.1L385.5 477.6L385.9 477.7L386.4 477.1L386.8 476.8L387.3 477.2L387.7 476.2L388.2 474.4L388.6 473.1L389.1 474.6L389.5 472.2L390 472.4L390.4 468.3L390.9 469.7L391.3 468.7L391.8 468.3L392.2 467.2L392.7 467.1L393.1 466.8L393.6 462.2L394 461.1L394.5 460.1L394.9 461.9L395.4 458.8L395.8 456.1L396.3 455.6L396.7 457.5L397.2 453.1L397.6 454.3L398.1 452.8L398.5 448.6L399 454.7L399.4 445.4L399.9 448.8L400.3 446.8L400.8 445.3L401.2 444.8L401.7 443.7L402.1 443.9L402.6 441.1L403 442.8L403.5 439.8L403.9 438.7L404.4 438.4L404.8 434.2L405.3 436.3L405.7 436.2L406.2 429.1L406.6 429.7L407.1 430.7L407.5 431.7L408 420.9L408.4 428.2L408.9 428.2L409.3 427L409.8 423.1L410.2 423.2L410.7 423.8L411.1 426.1L411.6 416.8L412 416.7L412.5 412.9L412.9 412.9L413.4 409.4L413.8 409.4L414.3 409.9L414.7 409.5L415.2 413.6L415.6 412L416.1 401.2L416.5 409L417 408L417.4 399.8L417.9 404.4L418.3 405.5L418.8 411.9L419.2 409.3L419.7 405.4L420.1 401.7L420.6 402.7L421 405.4L421.5 401.4L421.9 407.8L422.4 404.7L422.8 400.4L423.3 395.6L423.7 405.6L424.2 406.6L424.6 403L425.1 403L425.5 401.6L426 402.3L426.4 399.4L426.9 398.7L427.3 402.4L427.8 407.4L428.2 405.6L428.7 404.5L429.1 405.9L429.6 402.1L430 404L430.5 405.5L430.9 406.5L431.3 404.3L431.8 409.5L432.2 411.3L432.7 409.6L433.1 411.7L433.6 410.8L434 416.7L434.5 410.6L434.9 412.9L435.4 409.6L435.8 409.7L436.3 411.5L436.7 418.2L437.2 414.3L437.6 415L438.1 419.6L438.5 416.4L439 420.9L439.4 423.7L439.9 419.6L440.3 418.2L440.8 417.5L441.2 423.3L441.7 426.3L442.1 425.7L442.6 427.1L443 428.6L443.5 431.5L443.9 432.3L444.4 427.9L444.8 434.4L445.3 429.8L445.7 436.3L446.2 433.6L446.6 436.4L447.1 434.2L447.5 437.9L448 439L448.4 441.1L448.9 440.5L449.3 440.7L449.8 441.2L450.2 444.5L450.7 445.4L451.1 446.8L451.6 451.8L452 448.6L452.5 452.7L452.9 451.7L453.4 454.1L453.8 455.3L454.3 455.9L454.7 459.3L455.2 458.5L455.6 457.4L456.1 458.9L456.5 460L457 462.4L457.4 464.9L457.9 464.3L458.3 468.3L458.8 468.4L459.2 470.1L459.7 471.8L460.1 474.1L460.6 474L461 473.7L461.5 476.2L461.9 477.9L462.4 478.4L462.8 479.7L463.3 480.3L463.7 481.4L464.2 481.1L464.6 482.2L465.1 482.6L465.5 482.9L466 483.8L466.4 483.1L466.9 483.3L467.3 484.1L467.8 483.5L468.2 484.1L468.7 484.2"/>
<path d="M182 484.2L182.2 482.6L182.7 482.5L183.1 482.6L183.6 482.6L184 483L184.5 483.5L184.9 483.7L185.4 483.7L185.8 483.5L186.3 482.9L186.7 483.2L187.2 483.8L187.6 483.4L188.1 482.5L188.5 482.9L189 482.9L189.4 482.3L189.9 482.2L190.3 482.7L190.8 483.3L191.2 482.9L191.7 482.8L192.1 483.5L192.6 483.5L193 483L193.5 483L193.9 482.9L194.4 482.7L194.8 483.3L195.3 483.4L195.7 483L196.2 483.2L196.6 482.8L197.1 483.2L197.5 483.5L198 483L198.4 483.2L198.9 483.5L199.3 483.3L199.8 482.2L200.2 482.2L200.7 483.2L201.1 483.3L201.6 482.5L202 482.6L202.5 482.8L202.9 483.3L203.4 483.2L203.8 483.4L204.3 483.3L204.7 482.9L205.2 483.4L205.6 483.3L206.1 483.1L206.5 483.1L207 482.1L207.4 481.6L207.9 481.5L208.3 481.8L208.8 482.5L209.2 483.1L209.7 483.6L210.1 483.9L210.6 484L211 484L211.5 484L211.9 483.8L212.4 483.4L212.8 483.5L213.3 483.4L213.7 482.9L214.2 483.4L214.6 483.2L215.1 482.6L215.5 482.1L216 482.1L216.4 482L216.9 482.5L217.3 482.5L217.8 482.1L218.2 482.2L218.7 482.5L219.1 483.4L219.6 483.7L220 483.6L220.5 483.5L220.9 482.8L221.4 482.2L221.8 482.2L222.3 482.1L222.7 482.4L223.2 482.4L223.6 482.2L224.1 482.4L224.5 483L225 483.2L225.4 483.5L225.9 483.5L226.3 483.1L226.8 483.1L227.2 482.9L227.7 483.3L228.1 483.6L228.6 483.5L229 483.5L229.5 483.4L229.9 482.8L230.4 482.9L230.8 482.9L231.3 483.2L231.7 483.3L232.2 482.7L232.6 482.4L233.1 482.9L233.5 483.1L234 483.2L234.4 482.5L234.8 482.6L235 484.2Z" fill="#000" stroke="none"/>
<path d="M235 484.2L235.3 483.7L235.7 483.7L236.2 483.7L236.6 483.5L237.1 483.3L237.5 483.6L238 483.4L238.4 483L238.9 482.9L239.3 483.3L239.8 483.5L240.2 483.5L240.7 483.7L241.1 483.5L241.6 483.2L242 483.4L242.5 483.7L242.9 483.6L243.4 483.6L243.8 483.5L244.3 483.6L244.7 483.6L245.2 483.5L245.6 483.4L246.1 483.5L246.5 483.4L247 483.2L247.4 483.5L247.9 483.4L248.3 483.1L248.8 483.2L249.2 483.4L249.7 483.3L250.1 483.7L250.6 483.7L251 483.4L251.5 483.4L251.9 483.6L252.4 483.8L252.8 483.7L253.3 483.2L253.7 483.1L254.2 483.3L254.6 483.3L255.1 483.6L255.5 483.9L256 483.7L256.4 483.3L256.9 483.3L257.3 483.4L257.8 483.3L258.2 483.4L258.7 483.1L259.1 483.2L259.6 483.8L260 483.9L260.5 483.7L260.9 483.1L261.4 483.2L261.8 483.8L262.3 483.9L262.7 483.7L263.2 483.8L263.6 483.8L264.1 483.5L264.5 483.8L265 483.8L265.4 483.5L265.9 483.6L266.3 484L266.8 484L267.2 483.9L267.7 483.9L268.1 483.8L268.6 483.4L269 483.1L269.5 483.1L269.9 483L270.4 483.3L270.8 483.7L271.3 484L271.7 484L272.2 483.8L272.6 483.6L273.1 483.7L273.5 483.8L274 483.6L274.4 483.3L274.9 483L275.3 483L275.8 483.2L276.2 483.6L276.7 483.5L277.1 483.4L277.6 483.8L278 483.9L278.5 483.7L278.9 483.8L279.4 483.7L279.8 483.4L280.3 483.3L280.7 483.7L281.2 483.9L281.6 483.8L282.1 483.5L282.5 483.6L283 483.2L283.4 483L283.9 483.2L284.3 483.2L284.8 483.1L285.2 483L285.7 482.9L286.1 483.1L286.6 483.4L287 483.8L287.5 484L287.9 484L288.4 483.7L288.8 483.4L289.3 483.5L289.7 483.5L290.2 483.4L290.6 483.4L291.1 483L291.5 483L292 483.3L292.4 483.4L292.9 483.2L293.3 483.4L293.8 483.7L294.2 483.8L294.7 483.6L295.1 483.3L295.6 483.4L296 483.2L296.5 483.1L296.9 483.3L297.4 483L297.8 482.9L298.3 483.5L298.7 483.7L299.2 483.8L299.6 483.5L300 483L300.5 482.9L300.9 483L301.4 483.1L301.8 483.5L302.3 483.5L302.7 483.7L303 484.2Z" fill="#000" stroke="none"/>
<path d="M330 484.2L330.2 483.6L330.6 483L331.1 483L331.5 483.7L332 483.8L332.4 483.8L332.9 483.7L333.3 483.5L333.8 483.3L334.2 483.6L334.7 483.6L335.1 483.2L335.6 483.4L336 483.4L336.5 483.4L336.9 483.3L337.4 483.3L337.8 483.3L338.3 483.4L338.7 483.2L339.2 483.3L339.6 483.3L340.1 483.7L340.5 483.7L341 483.8L341.4 483.8L341.9 483.4L342.3 483.2L342.8 483.3L343.2 483.5L343.7 483.5L344.1 483.6L344.6 483.7L345 483.4L345.5 483L345.9 483.2L346.4 483.6L346.8 483.4L347.3 483.4L347.7 483.4L348.2 483.6L348.6 483.5L349.1 482.9L349.5 482.7L350 483.2L350.4 483.8L350.9 483.9L351.3 483.5L351.8 483.4L352.2 483.8L352.7 483.6L353.1 483.1L353.6 482.7L354 482.8L354.5 483.1L354.9 483.5L355.4 483.2L355.8 483.4L356.3 483.6L356.7 483.5L357.2 483.3L357.6 483.3L358.1 483.8L358.5 484L359 483.6L359.4 483.3L359.9 483.6L360.3 483.6L360.8 483.3L361.2 483L361.7 483.1L362.1 483.4L362.6 482.9L363 482.9L363.5 483.5L363.9 483.4L364.4 483.4L364.8 483.6L365.3 483.7L365.7 483.6L366.1 483.2L366.6 482.8L367 482.9L367.5 483.5L367.9 483.5L368 484.2Z" fill="#000" stroke="none"/>
<path class="ax" d="M37.5 353.8 V484.5 H497.5"/>
<path class="tk" d="M37.5 484.5h-4.2M37.5 471.5h-1.3M37.5 458.5h-1.3M37.5 445.5h-1.3M37.5 432.5h-1.3M37.5 418.5h-2.2M37.5 405.5h-1.3M37.5 392.5h-1.3M37.5 379.5h-1.3M37.5 366.5h-1.3M37.5 353.5h-3M37.5 484.2v2M72.1 484.2v1.8M92.4 484.2v1.8M106.7 484.2v1.8M117.9 484.2v1.8M127 484.2v1.8M134.7 484.2v1.8M141.4 484.2v1.8M147.2 484.2v1.8M152.5 484.2v2.6M187.1 484.2v1.8M207.4 484.2v1.8M221.7 484.2v1.8M232.9 484.2v1.8M242 484.2v1.8M249.7 484.2v1.8M256.4 484.2v1.8M262.2 484.2v1.8M267.5 484.2v2.6M302.1 484.2v1.8M322.4 484.2v1.8M336.7 484.2v1.8M347.9 484.2v1.8M357 484.2v1.8M364.7 484.2v1.8M371.4 484.2v1.8M377.2 484.2v1.8M382.5 484.2v2.6M417.1 484.2v1.8M437.4 484.2v1.8M451.7 484.2v1.8M462.9 484.2v1.8M472 484.2v1.8M479.7 484.2v1.8M486.4 484.2v1.8M492.2 484.2v1.8M497.5 484.2v2.6"/>
<text class="n" transform="translate(33.5 361.4) rotate(-90)" textLength="11.2" lengthAdjust="spacingAndGlyphs">100</text>
<text class="n" transform="translate(33.2 486.2) rotate(-90)">0</text>
<text class="n" x="31.5" y="492.2" textLength="6.8" lengthAdjust="spacing" style="font-size:6.6px">10</text><text class="s" x="39.2" y="490.5">0</text>
<text class="n" x="146.5" y="492.2" textLength="6.8" lengthAdjust="spacing" style="font-size:6.6px">10</text><text class="s" x="154.2" y="490.5">1</text>
<text class="n" x="261.5" y="492.2" textLength="6.8" lengthAdjust="spacing" style="font-size:6.6px">10</text><text class="s" x="269.2" y="490.5">2</text>
<text class="n" x="376.5" y="492.2" textLength="6.8" lengthAdjust="spacing" style="font-size:6.6px">10</text><text class="s" x="384.2" y="490.5">3</text>
<text class="n" x="491.5" y="492.2" textLength="6.8" lengthAdjust="spacing" style="font-size:6.6px">10</text><text class="s" x="499.2" y="490.5">4</text>
<text class="t" x="50.3" y="367.2" textLength="11.5" lengthAdjust="spacing">IL5</text>
<text class="l" x="293" y="385.2">6D</text>
<text class="l" x="371" y="385.2">72H</text>
<text class="l" x="422" y="385.2">20H</text>
</g>
</g>
<text class="A" transform="translate(5.55 19.9) scale(.88 1)">A</text>
<rect x="0" y="0" width="520" height="1" fill="#000"/>
<rect x="0" y="0" width="1.2" height="507" fill="#000"/>
<rect x="519" y="0" width="1" height="507" fill="#000"/>
<rect x="0" y="505" width="520" height="2" fill="#777"/>
</svg>
</body></html>
